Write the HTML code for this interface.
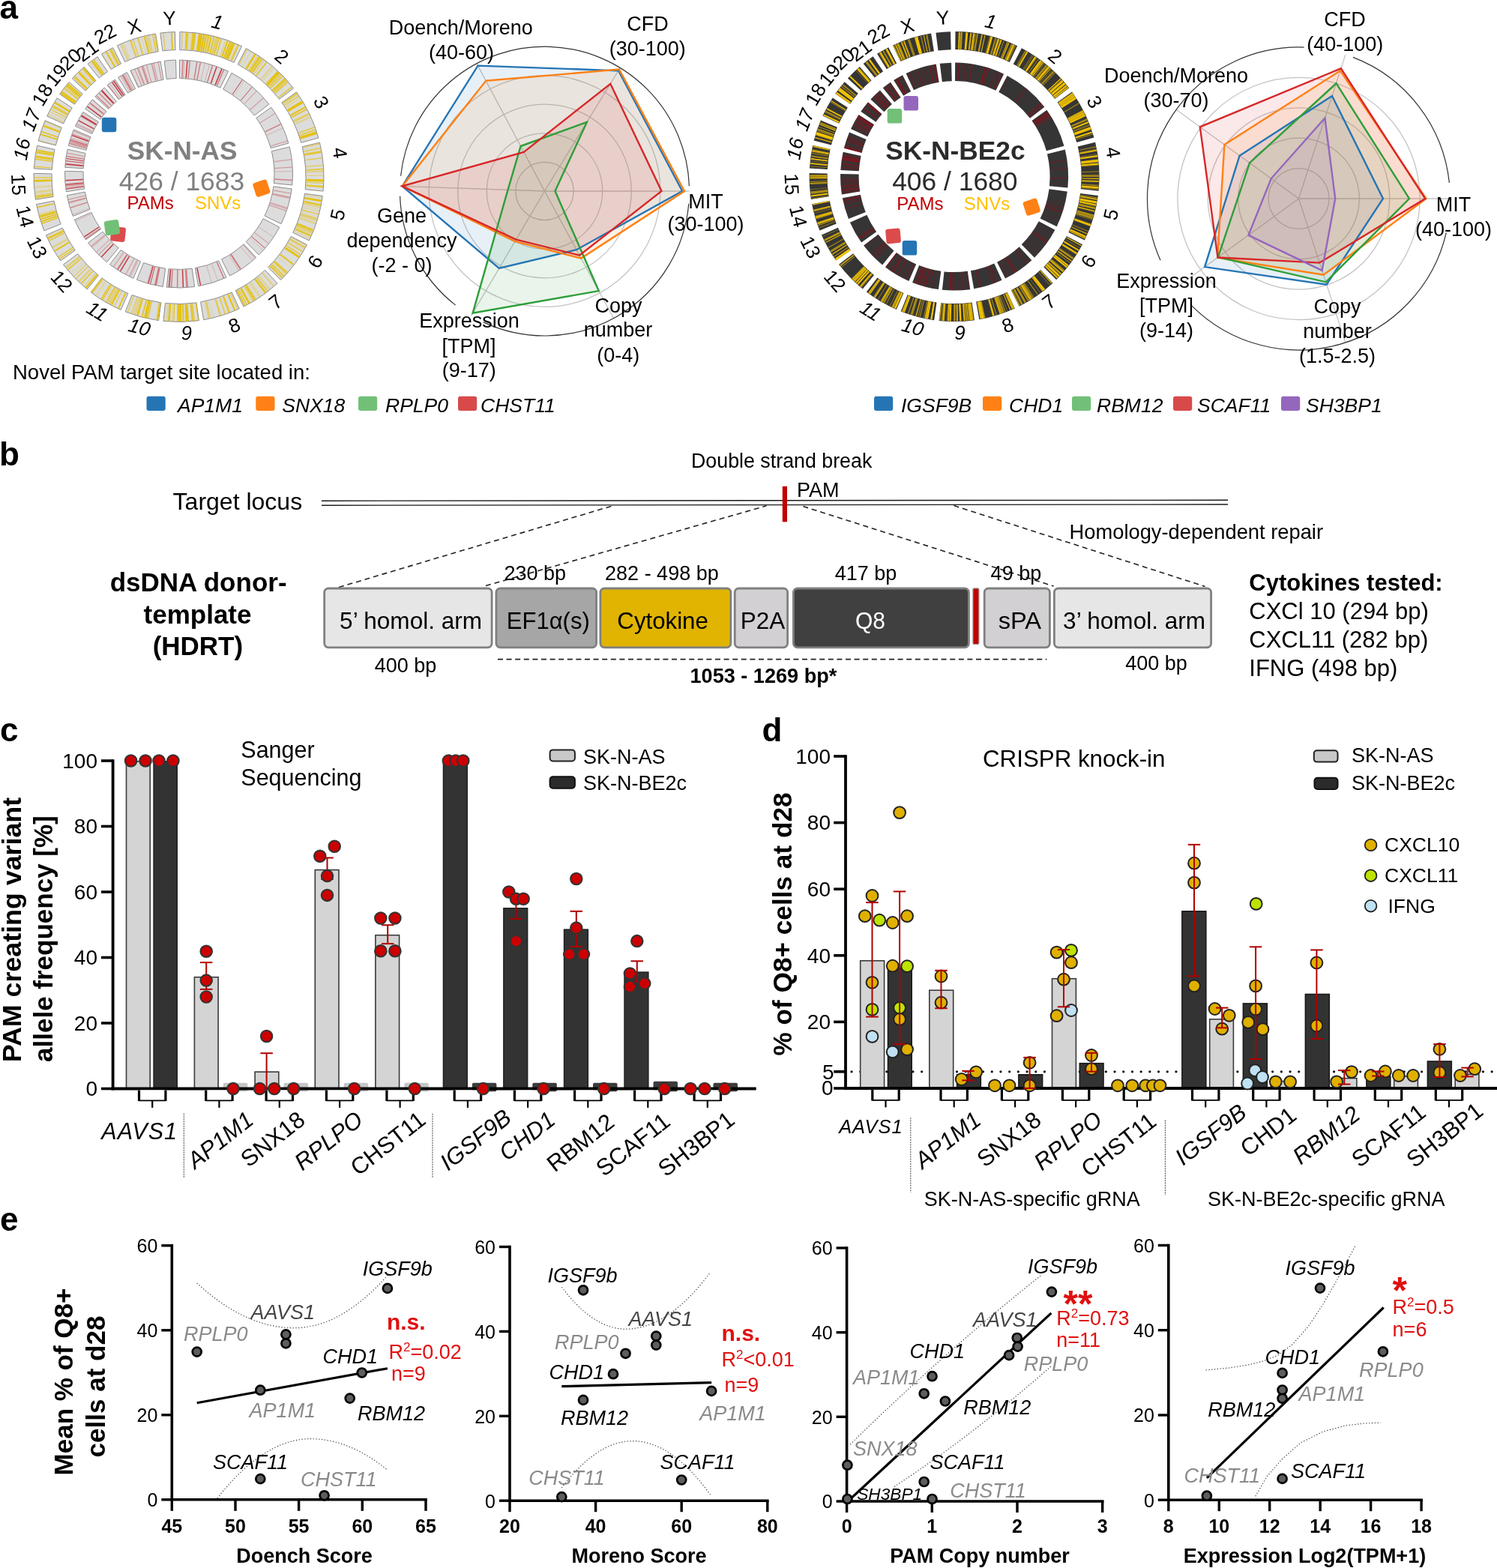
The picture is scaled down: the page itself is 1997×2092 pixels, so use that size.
<!DOCTYPE html>
<html><head><meta charset="utf-8"><title>Figure</title>
<style>html,body{margin:0;padding:0;background:#fff;} svg{display:block;}</style></head>
<body><svg width="1997" height="2092" viewBox="0 0 1997 2092" font-family="'Liberation Sans', Arial, Helvetica, sans-serif">
<rect width="1997" height="2092" fill="#fff"/>
<text x="-0.5" y="24.8" font-size="44" font-weight="bold">a</text>
<path d="M239.85,42.50 A193.5,193.5 0 0 1 322.55,61.71 L312.12,83.33 A169.5,169.5 0 0 0 239.68,66.50 Z" fill="#dcdcdc" stroke="#8c8c8c" stroke-width="1.0"/>
<path d="M328.28,64.59 A193.5,193.5 0 0 1 391.60,117.67 L372.61,132.35 A169.5,169.5 0 0 0 317.15,85.85 Z" fill="#dcdcdc" stroke="#8c8c8c" stroke-width="1.0"/>
<path d="M395.44,122.81 A193.5,193.5 0 0 1 424.86,183.93 L401.75,190.39 A169.5,169.5 0 0 0 375.98,136.85 Z" fill="#dcdcdc" stroke="#8c8c8c" stroke-width="1.0"/>
<path d="M426.49,190.13 A193.5,193.5 0 0 1 431.06,255.06 L407.18,252.70 A169.5,169.5 0 0 0 403.17,195.82 Z" fill="#dcdcdc" stroke="#8c8c8c" stroke-width="1.0"/>
<path d="M430.32,261.44 A193.5,193.5 0 0 1 412.36,320.93 L390.80,310.40 A169.5,169.5 0 0 0 406.53,258.28 Z" fill="#dcdcdc" stroke="#8c8c8c" stroke-width="1.0"/>
<path d="M409.45,326.65 A193.5,193.5 0 0 1 374.55,373.60 L357.68,356.53 A169.5,169.5 0 0 0 388.25,315.41 Z" fill="#dcdcdc" stroke="#8c8c8c" stroke-width="1.0"/>
<path d="M369.91,378.03 A193.5,193.5 0 0 1 325.00,409.09 L314.27,387.62 A169.5,169.5 0 0 0 353.61,360.41 Z" fill="#dcdcdc" stroke="#8c8c8c" stroke-width="1.0"/>
<path d="M319.22,411.86 A193.5,193.5 0 0 1 271.70,426.63 L267.58,402.99 A169.5,169.5 0 0 0 309.21,390.05 Z" fill="#dcdcdc" stroke="#8c8c8c" stroke-width="1.0"/>
<path d="M265.36,427.63 A193.5,193.5 0 0 1 217.90,428.40 L220.46,404.54 A169.5,169.5 0 0 0 262.03,403.86 Z" fill="#dcdcdc" stroke="#8c8c8c" stroke-width="1.0"/>
<path d="M211.53,427.61 A193.5,193.5 0 0 1 167.17,415.87 L176.01,393.56 A169.5,169.5 0 0 0 214.88,403.85 Z" fill="#dcdcdc" stroke="#8c8c8c" stroke-width="1.0"/>
<path d="M161.24,413.41 A193.5,193.5 0 0 1 121.28,389.96 L135.82,370.86 A169.5,169.5 0 0 0 170.82,391.40 Z" fill="#dcdcdc" stroke="#8c8c8c" stroke-width="1.0"/>
<path d="M116.24,385.98 A193.5,193.5 0 0 1 84.47,353.12 L103.57,338.59 A169.5,169.5 0 0 0 131.41,367.38 Z" fill="#dcdcdc" stroke="#8c8c8c" stroke-width="1.0"/>
<path d="M80.67,347.95 A193.5,193.5 0 0 1 61.33,313.79 L83.30,304.14 A169.5,169.5 0 0 0 100.25,334.06 Z" fill="#dcdcdc" stroke="#8c8c8c" stroke-width="1.0"/>
<path d="M58.84,307.87 A193.5,193.5 0 0 1 48.50,272.61 L72.06,268.07 A169.5,169.5 0 0 0 81.13,298.96 Z" fill="#dcdcdc" stroke="#8c8c8c" stroke-width="1.0"/>
<path d="M47.39,266.29 A193.5,193.5 0 0 1 45.06,231.35 L69.05,231.93 A169.5,169.5 0 0 0 71.09,262.54 Z" fill="#dcdcdc" stroke="#8c8c8c" stroke-width="1.0"/>
<path d="M45.32,224.94 A193.5,193.5 0 0 1 49.57,194.21 L73.00,199.39 A169.5,169.5 0 0 0 69.28,226.31 Z" fill="#dcdcdc" stroke="#8c8c8c" stroke-width="1.0"/>
<path d="M51.06,187.97 A193.5,193.5 0 0 1 60.18,160.86 L82.30,170.18 A169.5,169.5 0 0 0 74.31,193.92 Z" fill="#dcdcdc" stroke="#8c8c8c" stroke-width="1.0"/>
<path d="M62.77,154.99 A193.5,193.5 0 0 1 76.09,130.81 L96.23,143.85 A169.5,169.5 0 0 0 84.57,165.04 Z" fill="#dcdcdc" stroke="#8c8c8c" stroke-width="1.0"/>
<path d="M79.67,125.48 A193.5,193.5 0 0 1 92.02,109.57 L110.19,125.25 A169.5,169.5 0 0 0 99.37,139.19 Z" fill="#dcdcdc" stroke="#8c8c8c" stroke-width="1.0"/>
<path d="M96.29,104.78 A193.5,193.5 0 0 1 112.22,89.39 L127.88,107.57 A169.5,169.5 0 0 0 113.93,121.05 Z" fill="#dcdcdc" stroke="#8c8c8c" stroke-width="1.0"/>
<path d="M117.15,85.28 A193.5,193.5 0 0 1 130.06,75.74 L143.51,95.62 A169.5,169.5 0 0 0 132.20,103.98 Z" fill="#dcdcdc" stroke="#8c8c8c" stroke-width="1.0"/>
<path d="M135.43,72.24 A193.5,193.5 0 0 1 150.62,63.61 L161.52,84.99 A169.5,169.5 0 0 0 148.21,92.55 Z" fill="#dcdcdc" stroke="#8c8c8c" stroke-width="1.0"/>
<path d="M156.38,60.79 A193.5,193.5 0 0 1 207.48,45.00 L211.32,68.69 A169.5,169.5 0 0 0 166.57,82.52 Z" fill="#dcdcdc" stroke="#8c8c8c" stroke-width="1.0"/>
<path d="M213.83,44.08 A193.5,193.5 0 0 1 233.43,42.57 L234.06,66.56 A169.5,169.5 0 0 0 216.89,67.88 Z" fill="#dcdcdc" stroke="#8c8c8c" stroke-width="1.0"/>
<path d="M250.2 66.3L251.8 43.6M283.5 72.0L289.6 50.0M242.4 65.9L243.0 43.2M283.4 71.9L289.4 49.9M255.5 66.7L257.7 44.1M323.2 88.5L334.6 68.7M359.4 116.3L375.6 100.3M387.4 153.8L407.4 142.8M393.0 164.9L413.8 155.4M378.1 138.9L396.9 125.8M405.2 202.2L427.5 197.6M406.0 206.4L428.4 202.4M395.6 301.3L416.6 310.1M403.6 276.8L425.8 282.3M392.4 308.5L413.0 318.2M406.9 260.1L429.5 263.3M363.3 351.5L380.1 367.0M334.8 376.2L347.7 395.0M326.6 381.5L338.4 401.0M297.3 395.6L305.1 417.0M273.3 402.5L278.0 424.8M158.3 386.0L147.5 406.1M124.0 361.8L108.7 378.7M68.5 240.8L45.7 241.4M70.1 260.3L47.6 263.6M68.8 247.3L46.0 248.8M68.9 249.0L46.2 250.7M70.1 212.2L47.5 209.0M71.0 206.4L48.5 202.5M107.9 127.0L90.4 112.4M108.4 126.4L91.0 111.7M137.9 98.8L124.4 80.4M156.5 87.0L145.5 67.0M153.1 88.9L141.7 69.2M148.6 91.6L136.6 72.2M198.5 70.7L193.1 48.5M173.4 78.8L164.7 57.8" stroke="#e6c000" stroke-width="0.6" stroke-opacity="0.7" fill="none"/>
<path d="M249.0 66.2L250.4 43.5M276.1 70.1L281.1 47.9M258.2 67.0L260.9 44.4M301.0 77.8L309.4 56.6M275.9 70.1L280.9 47.8M337.1 97.4L350.3 78.8M366.2 123.7L383.4 108.6M398.2 177.5L419.6 169.7M391.9 162.5L412.5 152.7M379.6 140.9L398.5 128.2M408.2 248.0L430.9 249.6M408.4 243.5L431.2 244.5M408.5 229.5L431.3 228.6M408.0 222.3L430.8 220.5M397.0 297.9L418.2 306.2M395.5 301.4L416.6 310.2M405.2 269.8L427.5 274.4M381.9 327.5L401.1 339.7M316.3 387.3L326.7 407.6M293.2 397.1L300.5 418.7M287.1 399.0L293.7 420.8M244.3 406.0L245.1 428.8M202.5 402.2L197.7 424.5M162.6 388.2L152.4 408.6M148.8 380.5L136.8 399.9M106.0 342.7L88.3 357.0M123.8 361.6L108.5 378.5M123.6 361.4L108.2 378.2M117.5 355.6L101.3 371.6M85.9 311.1L65.4 321.1M98.3 332.4L79.5 345.3M70.2 211.2L47.7 207.9M70.1 211.8L47.6 208.6M76.0 185.8L54.2 179.1M76.9 182.8L55.3 175.7M88.1 156.6L67.9 145.9M99.4 138.1L80.8 124.9M106.4 128.8L88.7 114.4M153.1 88.9L141.6 69.2M157.6 86.4L146.7 66.3M201.0 70.1L196.0 47.8M184.8 74.6L177.6 53.0M197.8 70.8L192.4 48.7" stroke="#e6c000" stroke-width="1.2" stroke-opacity="0.7" fill="none"/>
<path d="M287.8 73.2L294.4 51.4M252.8 66.5L254.7 43.8M273.9 69.6L278.7 47.3M339.0 98.7L352.4 80.3M347.6 105.5L362.2 88.0M364.2 121.4L381.1 106.1M319.1 86.2L329.9 66.1M360.3 117.3L376.6 101.4M400.5 184.0L422.2 177.0M379.0 140.1L397.8 127.3M399.8 182.1L421.5 174.9M405.0 201.3L427.3 196.6M407.1 213.8L429.8 210.8M407.1 213.6L429.7 210.6M404.8 271.9L427.1 276.7M401.8 283.5L423.7 289.9M405.5 268.5L427.9 272.8M404.2 274.4L426.4 279.6M385.1 322.3L404.7 333.9M370.7 343.0L388.4 357.4M332.5 377.8L345.1 396.8M278.7 401.3L284.1 423.4M275.2 402.1L280.1 424.4M276.2 401.9L281.2 424.1M222.1 405.3L219.8 428.0M184.4 397.3L177.1 418.9M150.4 381.5L138.6 401.0M142.8 376.7L130.0 395.5M115.5 353.5L99.0 369.2M111.4 349.0L94.3 364.2M105.2 341.6L87.3 355.8M113.2 351.0L96.4 366.4M117.6 355.6L101.4 371.7M90.6 319.9L70.7 331.2M83.1 305.1L62.2 314.4M85.9 311.2L65.5 321.2M85.2 309.8L64.7 319.7M75.9 285.9L54.1 292.6M74.1 279.8L52.1 285.7M69.7 256.8L47.1 259.6M73.9 193.0L51.9 187.2M79.7 174.9L58.5 166.7M89.6 153.8L69.6 142.8M85.6 161.5L65.1 151.5M159.4 85.4L148.8 65.2M197.9 70.8L192.4 48.7M172.3 79.3L163.4 58.3M194.9 71.6L189.1 49.5" stroke="#e6c000" stroke-width="0.6" stroke-opacity="0.45" fill="none"/>
<path d="M284.7 72.3L290.9 50.3M242.5 65.9L243.1 43.2M302.4 78.3L310.9 57.2M277.6 70.5L282.8 48.3M329.2 92.1L341.4 72.8M350.2 107.7L365.2 90.5M333.5 94.9L346.3 76.0M367.2 124.8L384.4 109.9M339.1 98.8L352.6 80.5M383.1 146.5L402.5 134.5M381.2 143.4L400.3 131.0M400.2 183.3L421.9 176.3M393.5 166.0L414.3 156.6M408.6 234.2L431.4 234.0M407.1 213.7L429.7 210.7M405.2 202.4L427.6 197.9M404.8 271.9L427.0 276.8M373.9 339.0L392.0 352.8M381.9 327.4L401.2 339.7M373.1 340.1L391.1 354.0M345.8 368.0L360.2 385.7M344.6 368.9L358.9 386.7M333.5 377.1L346.3 396.0M316.8 387.0L327.3 407.3M292.7 397.2L300.0 418.8M274.3 402.3L279.1 424.6M238.5 406.1L238.4 428.9M238.4 406.1L238.4 428.9M148.8 380.6L136.8 399.9M140.9 375.3L127.9 394.0M148.1 380.1L136.0 399.4M127.1 364.6L112.2 381.8M106.1 342.8L88.4 357.2M75.3 283.9L53.4 290.3M77.4 290.5L55.8 297.8M68.4 236.9L45.6 237.0M69.7 214.6L47.1 211.8M69.9 213.2L47.3 210.1M69.7 215.0L47.1 212.2M81.2 171.2L60.2 162.5M86.8 159.1L66.5 148.7M84.8 163.2L64.2 153.4M101.2 135.6L82.8 122.2M107.8 127.1L90.3 112.5M122.8 111.3L107.3 94.6M182.5 75.4L175.0 53.8" stroke="#e6c000" stroke-width="0.6" stroke-opacity="0.9" fill="none"/>
<path d="M273.0 69.4L277.7 47.1M307.8 80.6L317.0 59.8M265.8 68.1L269.4 45.6M300.3 77.5L308.6 56.3M282.6 71.7L288.5 49.7M280.4 71.1L286.0 49.1M365.4 122.8L382.4 107.6M334.5 95.6L347.4 76.8M327.9 91.3L339.9 71.9M331.8 93.8L344.3 74.7M383.7 147.4L403.2 135.5M391.4 161.4L411.9 151.4M404.1 196.9L426.2 191.7M399.5 290.8L421.1 298.2M394.6 303.7L415.5 312.7M401.2 285.6L423.0 292.3M400.6 287.5L422.4 294.4M360.9 354.1L377.3 369.9M325.9 381.9L337.6 401.5M341.0 371.7L354.8 389.9M350.0 364.4L365.0 381.6M287.8 398.8L294.4 420.6M307.7 391.4L317.0 412.2M297.7 395.5L305.6 416.8M187.5 398.3L180.6 420.0M195.3 400.5L189.5 422.6M183.1 396.8L175.7 418.4M212.4 404.1L209.0 426.6M178.3 395.1L170.3 416.4M157.4 385.5L146.5 405.6M137.1 372.6L123.5 390.9M154.3 383.8L143.1 403.6M128.9 366.1L114.2 383.5M84.7 308.6L64.0 318.3M89.9 318.8L70.0 329.8M74.5 281.3L52.6 287.3M74.8 282.1L52.8 288.3M76.0 286.2L54.2 292.9M70.2 260.9L47.7 264.2M79.6 175.3L58.3 167.2M106.0 129.4L88.2 115.1M104.8 130.8L86.9 116.7M137.5 99.1L123.9 80.8M159.4 85.4L148.8 65.2M170.6 80.0L161.5 59.1M181.6 75.7L174.0 54.2M203.2 69.6L198.5 47.3M220.3 66.9L217.8 44.2" stroke="#e6c000" stroke-width="2.0" stroke-opacity="0.45" fill="none"/>
<path d="M280.0 71.0L285.5 48.9M256.3 66.8L258.7 44.2M277.0 70.3L282.2 48.1M288.7 73.5L295.5 51.7M267.9 68.5L271.8 46.0M274.0 69.6L278.8 47.4M360.6 117.6L377.0 101.7M357.1 114.0L373.0 97.7M383.3 146.8L402.8 134.9M383.7 147.4L403.2 135.5M408.5 240.2L431.3 240.8M402.8 280.1L424.8 286.0M387.0 319.0L406.9 330.1M384.1 324.0L403.6 335.8M362.3 352.7L378.9 368.3M318.5 386.1L329.2 406.2M342.9 370.3L356.9 388.3M315.9 387.5L326.2 407.8M239.0 406.1L239.0 428.9M240.8 406.1L241.1 428.9M227.7 405.8L226.2 428.5M232.7 406.0L231.9 428.8M240.0 406.1L240.2 428.9M261.4 404.6L264.4 427.1M190.1 399.1L183.6 420.9M200.7 401.9L195.7 424.1M195.6 400.6L189.8 422.7M147.0 379.4L134.8 398.6M153.0 383.0L141.5 402.7M97.0 330.3L78.0 343.0M75.8 285.5L53.9 292.1M77.5 290.8L55.9 298.1M68.5 240.4L45.7 241.0M70.0 212.5L47.5 209.3M68.8 224.0L46.1 222.4M76.9 182.8L55.3 175.6M92.3 149.0L72.7 137.3M90.6 152.0L70.8 140.7M103.6 132.3L85.6 118.4M116.3 117.7L99.9 101.8M115.4 118.6L98.9 102.9M138.8 98.2L125.5 79.7M153.5 88.7L142.1 68.9M158.2 86.1L147.4 66.0M207.9 68.7L203.8 46.3" stroke="#e6c000" stroke-width="1.2" stroke-opacity="0.9" fill="none"/>
<path d="M295.5 75.7L303.2 54.3M293.5 75.1L300.9 53.5M363.3 120.4L380.0 104.9M318.9 86.1L329.6 66.0M363.2 120.3L379.9 104.8M356.3 113.3L372.1 96.9M367.0 124.6L384.3 109.7M348.3 106.1L363.0 88.6M398.2 177.5L419.6 169.6M405.8 205.2L428.2 201.1M406.2 207.2L428.6 203.4M401.3 285.2L423.1 291.8M388.2 316.7L408.3 327.5M386.3 320.2L406.1 331.4M329.6 379.7L341.8 398.9M327.4 381.0L339.3 400.5M304.0 393.0L312.7 414.0M275.3 402.1L280.2 424.3M230.8 405.9L229.7 428.7M224.3 405.5L222.4 428.2M185.8 397.7L178.7 419.4M156.1 384.8L145.1 404.8M155.8 384.6L144.7 404.5M121.5 359.5L105.8 376.0M120.6 358.6L104.8 375.0M114.9 352.9L98.4 368.6M84.1 307.4L63.4 317.0M98.6 332.8L79.8 345.7M68.4 239.5L45.6 240.0M68.5 240.3L45.7 240.9M69.4 254.7L46.8 257.2M69.3 253.2L46.6 255.5M69.9 258.2L47.3 261.2M68.4 236.8L45.6 236.9M69.6 215.6L47.0 212.8M106.3 129.0L88.6 114.6M114.4 119.7L97.8 104.1M135.4 100.7L121.6 82.6M152.7 89.1L141.2 69.4M181.1 75.9L173.4 54.4" stroke="#e6c000" stroke-width="1.2" stroke-opacity="0.45" fill="none"/>
<path d="M270.9 69.0L275.2 46.6M247.7 66.1L248.9 43.4M264.8 67.9L268.3 45.4M303.9 79.0L312.7 57.9M263.0 67.7L266.3 45.1M296.2 76.0L303.9 54.5M268.5 68.6L272.6 46.1M298.9 77.0L306.9 55.7M303.1 78.6L311.7 57.5M265.8 68.1L269.5 45.6M355.1 112.1L370.7 95.5M356.2 113.2L371.9 96.7M333.6 95.0L346.3 76.1M328.7 91.8L340.7 72.4M400.7 184.8L422.5 178.0M384.4 148.5L403.9 136.8M387.5 153.9L407.5 142.9M400.3 183.5L422.0 176.5M408.6 239.7L431.4 240.2M406.3 263.8L428.8 267.5M406.2 264.6L428.7 268.5M396.4 299.3L417.5 307.8M393.7 305.6L414.5 314.9M379.8 330.8L398.7 343.5M340.1 372.4L353.8 390.7M321.0 384.7L332.1 404.7M328.1 380.6L340.1 400.0M321.6 384.4L332.8 404.3M304.3 392.9L313.1 413.9M249.5 405.7L251.0 428.5M247.8 405.8L249.0 428.6M237.3 406.1L237.1 428.9M254.6 405.3L256.8 428.0M226.6 405.7L225.0 428.4M198.4 401.3L193.0 423.5M213.4 404.2L210.1 426.8M167.6 390.6L158.1 411.3M159.4 386.6L148.8 406.8M129.5 366.6L114.9 384.1M92.4 323.1L72.8 334.8M76.7 288.4L55.0 295.4M75.0 282.8L53.0 289.0M68.5 241.0L45.7 241.7M71.3 204.6L48.9 200.4M70.9 207.0L48.4 203.2M79.3 176.1L58.0 168.1M92.8 148.3L73.2 136.5M92.6 148.6L73.0 136.9M101.2 135.7L82.7 122.2M99.9 137.3L81.4 124.1M126.6 107.9L111.6 90.7M120.6 113.4L104.8 96.9M136.5 99.9L122.8 81.7M230.0 66.1L228.9 43.3" stroke="#e6c000" stroke-width="2.0" stroke-opacity="0.9" fill="none"/>
<path d="M262.7 67.6L265.9 45.1M301.4 78.0L309.9 56.8M257.4 67.0L260.0 44.3M308.7 81.0L318.1 60.3M255.1 66.7L257.3 44.0M285.8 72.6L292.2 50.7M336.0 96.6L349.1 78.0M371.7 130.2L389.5 116.0M358.6 115.6L374.7 99.4M363.3 120.4L380.0 104.9M341.9 100.9L355.7 82.8M364.4 121.6L381.2 106.2M388.9 156.5L409.0 145.8M377.4 137.8L396.0 124.6M399.3 180.6L420.9 173.1M406.0 206.6L428.5 202.7M408.5 241.3L431.3 242.0M408.4 226.9L431.1 225.6M408.2 247.3L431.0 248.8M405.4 268.8L427.8 273.2M366.2 348.4L383.3 363.4M365.2 349.5L382.2 364.7M373.8 339.2L391.9 353.0M380.4 329.8L399.4 342.3M360.1 355.0L376.4 370.9M298.1 395.3L306.1 416.7M241.3 406.1L241.6 428.9M243.8 406.0L244.5 428.8M256.5 405.1L258.9 427.8M247.4 405.9L248.5 428.6M189.7 398.9L183.1 420.8M190.1 399.1L183.6 420.9M200.5 401.8L195.4 424.0M198.7 401.4L193.4 423.6M136.0 371.8L122.3 390.0M108.0 345.1L90.5 359.7M84.5 308.3L63.9 318.0M72.2 271.7L49.9 276.4M70.0 259.4L47.4 262.5M75.9 185.9L54.2 179.2M89.8 153.5L69.8 142.4M107.6 127.3L90.1 112.8M108.2 126.7L90.7 112.0M106.9 128.2L89.3 113.8M107.2 127.9L89.6 113.4M125.5 108.9L110.3 91.8M121.2 112.8L105.5 96.3M190.5 72.8L184.0 50.9M198.7 70.6L193.3 48.5M210.4 68.2L206.7 45.7" stroke="#e6c000" stroke-width="2.0" stroke-opacity="0.7" fill="none"/>
<path d="M239.56,80.00 A152,152 0 0 1 304.52,95.09 L293.88,117.16 A127.5,127.5 0 0 0 239.39,104.50 Z" fill="#dcdcdc" stroke="#8c8c8c" stroke-width="1.0"/>
<path d="M309.03,97.35 A152,152 0 0 1 358.77,139.05 L339.38,154.03 A127.5,127.5 0 0 0 297.66,119.06 Z" fill="#dcdcdc" stroke="#8c8c8c" stroke-width="1.0"/>
<path d="M361.78,143.09 A152,152 0 0 1 384.89,191.10 L361.30,197.69 A127.5,127.5 0 0 0 341.91,157.42 Z" fill="#dcdcdc" stroke="#8c8c8c" stroke-width="1.0"/>
<path d="M386.17,195.97 A152,152 0 0 1 389.76,246.97 L365.38,244.56 A127.5,127.5 0 0 0 362.37,201.78 Z" fill="#dcdcdc" stroke="#8c8c8c" stroke-width="1.0"/>
<path d="M389.18,251.98 A152,152 0 0 1 375.08,298.72 L353.06,287.96 A127.5,127.5 0 0 0 364.89,248.76 Z" fill="#dcdcdc" stroke="#8c8c8c" stroke-width="1.0"/>
<path d="M372.79,303.21 A152,152 0 0 1 345.37,340.09 L328.15,322.66 A127.5,127.5 0 0 0 351.14,291.73 Z" fill="#dcdcdc" stroke="#8c8c8c" stroke-width="1.0"/>
<path d="M341.73,343.57 A152,152 0 0 1 306.45,367.97 L295.50,346.05 A127.5,127.5 0 0 0 325.09,325.59 Z" fill="#dcdcdc" stroke="#8c8c8c" stroke-width="1.0"/>
<path d="M301.91,370.14 A152,152 0 0 1 264.58,381.75 L260.37,357.61 A127.5,127.5 0 0 0 291.69,347.88 Z" fill="#dcdcdc" stroke="#8c8c8c" stroke-width="1.0"/>
<path d="M259.60,382.53 A152,152 0 0 1 222.32,383.14 L224.93,358.78 A127.5,127.5 0 0 0 256.20,358.27 Z" fill="#dcdcdc" stroke="#8c8c8c" stroke-width="1.0"/>
<path d="M217.32,382.52 A152,152 0 0 1 182.47,373.29 L191.50,350.52 A127.5,127.5 0 0 0 220.73,358.26 Z" fill="#dcdcdc" stroke="#8c8c8c" stroke-width="1.0"/>
<path d="M177.81,371.36 A152,152 0 0 1 146.42,352.94 L161.26,333.44 A127.5,127.5 0 0 0 187.59,348.90 Z" fill="#dcdcdc" stroke="#8c8c8c" stroke-width="1.0"/>
<path d="M142.46,349.82 A152,152 0 0 1 117.50,324.00 L137.01,309.17 A127.5,127.5 0 0 0 157.94,330.83 Z" fill="#dcdcdc" stroke="#8c8c8c" stroke-width="1.0"/>
<path d="M114.52,319.94 A152,152 0 0 1 99.32,293.11 L121.76,283.26 A127.5,127.5 0 0 0 134.50,305.76 Z" fill="#dcdcdc" stroke="#8c8c8c" stroke-width="1.0"/>
<path d="M97.37,288.46 A152,152 0 0 1 89.25,260.76 L113.30,256.12 A127.5,127.5 0 0 0 120.12,279.36 Z" fill="#dcdcdc" stroke="#8c8c8c" stroke-width="1.0"/>
<path d="M88.37,255.80 A152,152 0 0 1 86.54,228.35 L111.04,228.94 A127.5,127.5 0 0 0 112.57,251.96 Z" fill="#dcdcdc" stroke="#8c8c8c" stroke-width="1.0"/>
<path d="M86.75,223.31 A152,152 0 0 1 90.09,199.17 L114.01,204.46 A127.5,127.5 0 0 0 111.21,224.71 Z" fill="#dcdcdc" stroke="#8c8c8c" stroke-width="1.0"/>
<path d="M91.26,194.27 A152,152 0 0 1 98.43,172.98 L121.00,182.49 A127.5,127.5 0 0 0 114.99,200.35 Z" fill="#dcdcdc" stroke="#8c8c8c" stroke-width="1.0"/>
<path d="M100.46,168.37 A152,152 0 0 1 110.92,149.37 L131.49,162.69 A127.5,127.5 0 0 0 122.71,178.62 Z" fill="#dcdcdc" stroke="#8c8c8c" stroke-width="1.0"/>
<path d="M113.73,145.18 A152,152 0 0 1 123.43,132.68 L141.98,148.69 A127.5,127.5 0 0 0 133.84,159.18 Z" fill="#dcdcdc" stroke="#8c8c8c" stroke-width="1.0"/>
<path d="M126.79,128.92 A152,152 0 0 1 139.30,116.83 L155.29,135.40 A127.5,127.5 0 0 0 144.80,145.54 Z" fill="#dcdcdc" stroke="#8c8c8c" stroke-width="1.0"/>
<path d="M143.17,113.61 A152,152 0 0 1 153.32,106.11 L167.05,126.40 A127.5,127.5 0 0 0 158.54,132.69 Z" fill="#dcdcdc" stroke="#8c8c8c" stroke-width="1.0"/>
<path d="M157.54,103.36 A152,152 0 0 1 169.47,96.58 L180.59,118.41 A127.5,127.5 0 0 0 170.59,124.09 Z" fill="#dcdcdc" stroke="#8c8c8c" stroke-width="1.0"/>
<path d="M173.99,94.37 A152,152 0 0 1 214.13,81.97 L218.06,106.15 A127.5,127.5 0 0 0 184.39,116.55 Z" fill="#dcdcdc" stroke="#8c8c8c" stroke-width="1.0"/>
<path d="M219.12,81.24 A152,152 0 0 1 234.52,80.05 L235.16,104.54 A127.5,127.5 0 0 0 222.24,105.54 Z" fill="#dcdcdc" stroke="#8c8c8c" stroke-width="1.0"/>
<path d="M244.7 104.1L245.8 80.8M267.9 107.3L273.2 84.6M273.2 108.7L279.5 86.3M321.5 329.6L336.6 347.3M275.6 354.6L282.4 376.9M184.1 348.0L174.2 369.1M118.9 278.0L97.2 286.4M111.6 249.3L88.5 252.4M117.0 191.3L94.9 183.9M128.9 165.7L108.9 153.7M128.9 165.6L109.0 153.6M150.9 138.5L135.0 121.5M160.6 130.3L146.5 111.8M178.2 119.0L167.2 98.4M173.0 121.9L161.1 101.9M208.4 107.5L202.9 84.8" stroke="#c0101c" stroke-width="0.9" stroke-opacity="0.25" fill="none"/>
<path d="M276.6 109.7L283.5 87.4M321.1 134.1L336.2 116.3M310.2 125.9L323.3 106.6M335.5 315.6L353.2 330.8M204.4 355.5L198.2 377.9M206.5 356.0L200.7 378.6M133.3 305.1L114.2 318.4M110.9 243.7L87.7 245.9M111.6 214.7L88.5 211.5M116.2 193.9L93.9 187.0M138.6 151.9L120.4 137.3" stroke="#c0101c" stroke-width="0.9" stroke-opacity="0.8" fill="none"/>
<path d="M248.1 104.3L249.9 81.0M287.1 113.5L295.9 91.9M281.3 111.2L289.0 89.3M263.0 357.7L267.5 380.6M227.6 359.6L225.7 382.9M243.5 360.0L244.4 383.3M172.5 341.8L160.5 361.8M151.2 325.8L135.4 342.8M131.9 303.0L112.5 315.9M110.6 239.4L87.4 240.7M110.9 220.9L87.7 218.8M118.0 188.5L96.1 180.6M128.6 166.2L108.6 154.2M125.4 171.8L104.9 160.8M135.3 156.1L116.6 142.2M151.7 137.8L135.9 120.6M151.4 138.1L135.5 121.0M163.1 128.4L149.4 109.6M165.0 127.1L151.6 108.0" stroke="#c0101c" stroke-width="1.5" stroke-opacity="0.8" fill="none"/>
<path d="M251.0 104.5L253.3 81.3M262.9 106.3L267.4 83.4M289.3 114.4L298.6 93.0M259.1 105.6L262.8 82.6M243.0 104.0L243.8 80.7M366.4 239.1L389.7 240.4M308.4 339.4L321.1 358.9M248.5 359.7L250.3 382.9M247.5 359.8L249.1 383.0M230.1 359.8L228.6 383.1M236.9 360.1L236.6 383.4M203.9 355.3L197.6 377.8M212.3 357.4L207.6 380.2M169.7 340.1L157.2 359.7M116.2 270.1L94.0 277.1M111.5 248.5L88.4 251.5M111.0 244.7L87.8 247.0M115.7 195.5L93.4 188.9M174.8 120.9L163.2 100.7M175.7 120.3L164.3 100.0M196.9 110.9L189.3 88.8" stroke="#c0101c" stroke-width="1.5" stroke-opacity="0.45" fill="none"/>
<path d="M286.7 113.3L295.4 91.7M312.2 127.2L325.6 108.2M309.8 125.6L322.8 106.2M333.5 317.9L350.8 333.5M211.4 357.2L206.5 380.0M202.9 355.0L196.4 377.4M163.9 336.2L150.4 355.1M111.9 212.3L88.9 208.7M118.4 187.4L96.6 179.3M166.2 126.3L153.0 107.0" stroke="#c0101c" stroke-width="0.5" stroke-opacity="0.25" fill="none"/>
<path d="M326.1 138.5L342.0 121.5M347.0 163.9L366.7 151.5M366.4 224.5L389.6 223.1M364.7 254.0L387.6 258.0M363.6 259.5L386.4 264.5M363.9 258.3L386.7 263.1M211.4 357.2L206.5 380.0M169.0 339.6L156.3 359.2M145.6 320.2L128.8 336.3M113.7 261.0L91.0 266.3M111.5 249.0L88.4 252.1M112.5 208.7L89.6 204.4M111.2 217.5L88.1 214.9M116.5 192.9L94.3 185.7M115.0 197.9L92.6 191.7M128.3 166.6L108.3 154.8M128.0 167.3L107.9 155.5M148.8 140.6L132.4 124.0M191.7 112.7L183.2 91.1M201.9 109.2L195.3 86.9M198.4 110.4L191.0 88.2M207.7 107.6L202.1 85.0M215.3 106.0L211.1 83.1" stroke="#c0101c" stroke-width="0.5" stroke-opacity="0.8" fill="none"/>
<path d="M333.8 146.4L351.2 130.9M365.6 215.7L388.7 212.7M360.7 270.5L382.9 277.5M360.4 271.4L382.5 278.6M289.3 349.6L298.5 371.0M178.7 345.3L167.8 365.9M182.7 347.3L172.6 368.3M148.4 323.0L132.0 339.6M140.5 314.5L122.7 329.5M114.7 264.8L92.1 270.7M111.2 246.2L88.0 248.8M111.2 246.0L88.0 248.6M110.8 221.8L87.6 220.0M123.5 175.5L102.6 165.3M138.0 152.6L119.7 138.2M145.8 143.6L128.9 127.5M148.4 141.0L132.0 124.4M210.1 107.1L204.9 84.4" stroke="#c0101c" stroke-width="1.5" stroke-opacity="0.25" fill="none"/>
<path d="M361.1 194.8L383.4 188.0M353.5 175.6L374.5 165.4M353.8 176.1L374.7 165.9M359.6 273.7L381.6 281.3M339.7 310.5L358.2 324.7M307.7 339.8L320.2 359.4M324.6 326.9L340.2 344.1M289.2 349.6L298.5 371.0M213.2 357.6L208.6 380.4M165.1 337.0L151.7 356.1M139.6 313.4L121.6 328.2M114.5 264.0L91.9 269.8M111.9 212.2L88.9 208.6M111.3 217.2L88.1 214.5M118.6 187.0L96.8 178.8M119.8 183.7L98.3 174.9M115.2 197.2L92.8 190.8M145.4 144.0L128.5 128.0M158.7 131.8L144.1 113.6M192.8 112.3L184.5 90.6M188.9 113.9L179.9 92.4" stroke="#c0101c" stroke-width="0.9" stroke-opacity="0.45" fill="none"/>
<path d="M355.8 180.4L377.1 171.0M366.6 229.1L389.9 228.6M345.1 303.1L364.5 316.0M306.0 340.9L318.3 360.7M282.6 352.3L290.6 374.1M226.6 359.5L224.4 382.7M169.2 339.7L156.6 359.3M122.0 285.2L100.8 294.9M111.6 214.8L88.5 211.7M112.0 211.9L89.0 208.2M122.9 176.8L101.9 166.8M130.2 163.5L110.6 151.1M140.9 149.0L123.2 133.9M177.1 119.6L165.9 99.1M185.0 115.6L175.2 94.5" stroke="#c0101c" stroke-width="0.5" stroke-opacity="0.45" fill="none"/>
<text x="290.0" y="28.8" font-size="26" font-style="italic" text-anchor="middle" dy="0.36em" transform="rotate(14.0 290.0 28.8)">1</text>
<text x="376.2" y="75.0" font-size="26" font-style="normal" text-anchor="middle" dy="0.36em" transform="rotate(40.5 376.2 75.0)">2</text>
<text x="428.8" y="136.2" font-size="26" font-style="normal" text-anchor="middle" dy="0.36em" transform="rotate(62.3 428.8 136.2)">3</text>
<text x="453.8" y="203.8" font-size="26" font-style="normal" text-anchor="middle" dy="0.36em" transform="rotate(81.5 453.8 203.8)">4</text>
<text x="450.0" y="286.2" font-size="26" font-style="normal" text-anchor="middle" dy="0.36em" transform="rotate(-76.6 450.0 286.2)">5</text>
<text x="420.0" y="348.8" font-size="26" font-style="normal" text-anchor="middle" dy="0.36em" transform="rotate(-58.2 420.0 348.8)">6</text>
<text x="367.5" y="402.5" font-size="26" font-style="normal" text-anchor="middle" dy="0.36em" transform="rotate(-37.8 367.5 402.5)">7</text>
<text x="312.5" y="433.8" font-size="26" font-style="normal" text-anchor="middle" dy="0.36em" transform="rotate(-20.5 312.5 433.8)">8</text>
<text x="248.8" y="443.8" font-size="26" font-style="italic" text-anchor="middle" dy="0.36em" transform="rotate(-2.8 248.8 443.8)">9</text>
<text x="186.2" y="436.2" font-size="26" font-style="italic" text-anchor="middle" dy="0.36em" transform="rotate(14.6 186.2 436.2)">10</text>
<text x="130.0" y="415.0" font-size="26" font-style="italic" text-anchor="middle" dy="0.36em" transform="rotate(31.2 130.0 415.0)">11</text>
<text x="82.5" y="375.0" font-size="26" font-style="normal" text-anchor="middle" dy="0.36em" transform="rotate(48.3 82.5 375.0)">12</text>
<text x="50.0" y="330.0" font-size="26" font-style="normal" text-anchor="middle" dy="0.36em" transform="rotate(63.5 50.0 330.0)">13</text>
<text x="33.8" y="288.8" font-size="26" font-style="normal" text-anchor="middle" dy="0.36em" transform="rotate(75.6 33.8 288.8)">14</text>
<text x="25.0" y="246.2" font-size="26" font-style="normal" text-anchor="middle" dy="0.36em" transform="rotate(87.3 25.0 246.2)">15</text>
<text x="28.8" y="198.8" font-size="26" font-style="italic" text-anchor="middle" dy="0.36em" transform="rotate(280.1 28.8 198.8)">16</text>
<text x="41.2" y="160.0" font-size="26" font-style="italic" text-anchor="middle" dy="0.36em" transform="rotate(291.1 41.2 160.0)">17</text>
<text x="56.2" y="126.2" font-size="26" font-style="normal" text-anchor="middle" dy="0.36em" transform="rotate(301.1 56.2 126.2)">18</text>
<text x="75.0" y="100.0" font-size="26" font-style="normal" text-anchor="middle" dy="0.36em" transform="rotate(309.8 75.0 100.0)">19</text>
<text x="93.8" y="78.8" font-size="26" font-style="normal" text-anchor="middle" dy="0.36em" transform="rotate(317.4 93.8 78.8)">20</text>
<text x="116.2" y="67.5" font-size="26" font-style="normal" text-anchor="middle" dy="0.36em" transform="rotate(324.0 116.2 67.5)">21</text>
<text x="140.0" y="45.0" font-size="26" font-style="normal" text-anchor="middle" dy="0.36em" transform="rotate(332.7 140.0 45.0)">22</text>
<text x="178.8" y="35.0" font-size="26" font-style="normal" text-anchor="middle" dy="0.36em" transform="rotate(343.4 178.8 35.0)">X</text>
<text x="226.2" y="23.8" font-size="26" font-style="normal" text-anchor="middle" dy="0.36em" transform="rotate(356.7 226.2 23.8)">Y</text>
<text x="243.1" y="212.5" font-size="35.2" font-weight="bold" fill="#808080" text-anchor="middle">SK-N-AS</text>
<text x="242.5" y="253.8" font-size="35.4" fill="#808080" text-anchor="middle">426 / 1683</text>
<text x="200.6" y="278.8" font-size="24" fill="#c00000" text-anchor="middle">PAMs</text>
<text x="290.6" y="278.8" font-size="24" fill="#ffc000" text-anchor="middle">SNVs</text>
<rect x="135.8" y="156.8" width="19.5" height="19.5" rx="3.2" fill="#2575b5" transform="rotate(0 145.6 166.6)"/>
<rect x="339.1" y="241.4" width="19.5" height="19.5" rx="3.2" fill="#ff8115" transform="rotate(-18 348.8 251.2)"/>
<rect x="147.8" y="302.8" width="19.5" height="19.5" rx="3.2" fill="#dc4b4b" transform="rotate(6 157.5 312.5)"/>
<rect x="139.7" y="293.9" width="19.5" height="19.5" rx="3.2" fill="#72c077" transform="rotate(-8 149.4 303.7)"/>
<path d="M1274.45,42.10 A193.5,193.5 0 0 1 1357.15,61.31 L1346.72,82.93 A169.5,169.5 0 0 0 1274.28,66.10 Z" fill="#353535"/>
<path d="M1362.88,64.19 A193.5,193.5 0 0 1 1426.20,117.27 L1407.21,131.95 A169.5,169.5 0 0 0 1351.75,85.45 Z" fill="#353535"/>
<path d="M1430.04,122.41 A193.5,193.5 0 0 1 1459.46,183.53 L1436.35,189.99 A169.5,169.5 0 0 0 1410.58,136.45 Z" fill="#353535"/>
<path d="M1461.09,189.73 A193.5,193.5 0 0 1 1465.66,254.66 L1441.78,252.30 A169.5,169.5 0 0 0 1437.77,195.42 Z" fill="#353535"/>
<path d="M1464.92,261.04 A193.5,193.5 0 0 1 1446.96,320.53 L1425.40,310.00 A169.5,169.5 0 0 0 1441.13,257.88 Z" fill="#353535"/>
<path d="M1444.05,326.25 A193.5,193.5 0 0 1 1409.15,373.20 L1392.28,356.13 A169.5,169.5 0 0 0 1422.85,315.01 Z" fill="#353535"/>
<path d="M1404.51,377.63 A193.5,193.5 0 0 1 1359.60,408.69 L1348.87,387.22 A169.5,169.5 0 0 0 1388.21,360.01 Z" fill="#353535"/>
<path d="M1353.82,411.46 A193.5,193.5 0 0 1 1306.30,426.23 L1302.18,402.59 A169.5,169.5 0 0 0 1343.81,389.65 Z" fill="#353535"/>
<path d="M1299.96,427.23 A193.5,193.5 0 0 1 1252.50,428.00 L1255.06,404.14 A169.5,169.5 0 0 0 1296.63,403.46 Z" fill="#353535"/>
<path d="M1246.13,427.21 A193.5,193.5 0 0 1 1201.77,415.47 L1210.61,393.16 A169.5,169.5 0 0 0 1249.48,403.45 Z" fill="#353535"/>
<path d="M1195.84,413.01 A193.5,193.5 0 0 1 1155.88,389.56 L1170.42,370.46 A169.5,169.5 0 0 0 1205.42,391.00 Z" fill="#353535"/>
<path d="M1150.84,385.58 A193.5,193.5 0 0 1 1119.07,352.72 L1138.17,338.19 A169.5,169.5 0 0 0 1166.01,366.98 Z" fill="#353535"/>
<path d="M1115.27,347.55 A193.5,193.5 0 0 1 1095.93,313.39 L1117.90,303.74 A169.5,169.5 0 0 0 1134.85,333.66 Z" fill="#353535"/>
<path d="M1093.44,307.47 A193.5,193.5 0 0 1 1083.10,272.21 L1106.66,267.67 A169.5,169.5 0 0 0 1115.73,298.56 Z" fill="#353535"/>
<path d="M1081.99,265.89 A193.5,193.5 0 0 1 1079.66,230.95 L1103.65,231.53 A169.5,169.5 0 0 0 1105.69,262.14 Z" fill="#353535"/>
<path d="M1079.92,224.54 A193.5,193.5 0 0 1 1084.17,193.81 L1107.60,198.99 A169.5,169.5 0 0 0 1103.88,225.91 Z" fill="#353535"/>
<path d="M1085.66,187.57 A193.5,193.5 0 0 1 1094.78,160.46 L1116.90,169.78 A169.5,169.5 0 0 0 1108.91,193.52 Z" fill="#353535"/>
<path d="M1097.37,154.59 A193.5,193.5 0 0 1 1110.69,130.41 L1130.83,143.45 A169.5,169.5 0 0 0 1119.17,164.64 Z" fill="#353535"/>
<path d="M1114.27,125.08 A193.5,193.5 0 0 1 1126.62,109.17 L1144.79,124.85 A169.5,169.5 0 0 0 1133.97,138.79 Z" fill="#353535"/>
<path d="M1130.89,104.38 A193.5,193.5 0 0 1 1146.82,88.99 L1162.48,107.17 A169.5,169.5 0 0 0 1148.53,120.65 Z" fill="#353535"/>
<path d="M1151.75,84.88 A193.5,193.5 0 0 1 1164.66,75.34 L1178.11,95.22 A169.5,169.5 0 0 0 1166.80,103.58 Z" fill="#353535"/>
<path d="M1170.03,71.84 A193.5,193.5 0 0 1 1185.22,63.21 L1196.12,84.59 A169.5,169.5 0 0 0 1182.81,92.15 Z" fill="#353535"/>
<path d="M1190.98,60.39 A193.5,193.5 0 0 1 1242.08,44.60 L1245.92,68.29 A169.5,169.5 0 0 0 1201.17,82.12 Z" fill="#353535"/>
<path d="M1248.43,43.68 A193.5,193.5 0 0 1 1268.03,42.17 L1268.66,66.16 A169.5,169.5 0 0 0 1251.49,67.48 Z" fill="#353535"/>
<path d="M1298.8 67.4L1302.2 44.9M1278.3 65.6L1279.0 42.8M1279.3 65.6L1280.1 42.8M1287.3 66.1L1289.2 43.4M1295.4 67.0L1298.4 44.4M1390.9 112.9L1406.7 96.4M1399.5 121.8L1416.5 106.5M1369.9 95.7L1382.9 77.0M1391.8 113.8L1407.7 97.4M1379.1 102.5L1393.3 84.7M1380.9 104.1L1395.4 86.4M1366.2 93.3L1378.7 74.2M1364.8 92.3L1377.1 73.1M1412.4 137.9L1431.0 124.8M1415.4 142.4L1434.5 129.9M1413.3 139.3L1432.1 126.4M1442.9 245.7L1465.7 247.1M1440.1 203.4L1462.5 199.1M1442.9 246.5L1465.6 247.9M1437.1 280.9L1459.0 287.0M1429.4 302.7L1450.4 311.7M1435.5 286.3L1457.2 293.1M1439.1 272.8L1461.3 277.8M1439.7 269.9L1462.0 274.5M1410.8 335.4L1429.3 348.8M1413.8 331.2L1432.7 344.0M1412.6 333.0L1431.3 346.0M1405.4 342.6L1423.1 356.9M1356.1 384.1L1367.2 404.0M1385.5 363.3L1400.5 380.4M1387.8 361.3L1403.1 378.1M1377.0 370.3L1390.9 388.3M1333.5 394.6L1341.6 415.9M1279.7 405.6L1280.6 428.4M1292.4 404.6L1295.0 427.2M1285.2 405.3L1286.8 428.0M1190.6 384.3L1179.5 404.3M1197.3 387.9L1187.1 408.3M1183.3 380.0L1171.2 399.4M1172.2 372.5L1158.6 390.9M1162.8 365.1L1148.0 382.5M1138.9 340.1L1120.9 354.1M1163.9 366.1L1149.3 383.5M1163.3 365.5L1148.6 382.9M1120.0 309.8L1099.5 319.7M1114.0 295.8L1092.7 303.9M1113.0 293.2L1091.6 300.9M1112.9 292.7L1091.4 300.4M1105.0 261.5L1082.5 265.0M1103.0 234.6L1080.2 234.5M1103.4 223.6L1080.7 222.0M1104.3 214.4L1081.7 211.6M1103.7 220.0L1081.0 217.9M1111.9 181.2L1090.3 173.9M1115.4 171.7L1094.3 163.2M1111.8 181.5L1090.2 174.3M1109.3 189.9L1087.3 183.7M1123.0 155.5L1102.9 144.8M1233.7 70.1L1228.4 47.9M1226.8 71.9L1220.6 50.0" stroke="#f2c200" stroke-width="0.6" stroke-opacity="0.85" fill="none"/>
<path d="M1322.4 72.8L1329.0 51.0M1317.5 71.4L1323.5 49.4M1315.0 70.7L1320.6 48.6M1297.0 67.2L1300.2 44.6M1331.4 75.8L1339.2 54.4M1345.1 81.5L1354.8 60.8M1343.9 80.9L1353.4 60.2M1372.1 97.2L1385.3 78.7M1357.0 87.6L1368.2 67.8M1383.3 106.0L1398.0 88.6M1406.4 129.9L1424.2 115.7M1398.2 120.3L1414.9 104.9M1433.2 178.0L1454.6 170.3M1433.3 178.4L1454.8 170.8M1435.7 185.7L1457.5 179.0M1425.9 160.9L1446.4 150.9M1412.8 138.6L1431.6 125.6M1443.1 229.6L1465.9 228.8M1442.5 220.4L1465.2 218.4M1442.6 249.9L1465.3 251.9M1442.0 215.6L1464.7 212.9M1430.5 300.0L1451.6 308.6M1441.4 260.5L1463.9 263.9M1435.9 285.0L1457.7 291.7M1398.2 350.8L1415.0 366.2M1405.2 342.8L1422.9 357.2M1398.9 350.1L1415.7 365.5M1388.1 361.0L1403.5 377.8M1363.6 379.6L1375.7 398.9M1356.1 384.1L1367.2 404.0M1359.7 382.0L1371.3 401.6M1366.7 377.6L1379.2 396.7M1332.5 395.0L1340.5 416.4M1338.8 392.5L1347.6 413.5M1318.9 399.4L1325.0 421.4M1240.1 402.5L1235.7 424.8M1212.0 394.3L1203.8 415.6M1219.0 396.9L1211.7 418.5M1237.1 401.8L1232.2 424.1M1230.5 400.3L1224.8 422.4M1202.7 390.4L1193.2 411.2M1199.5 389.0L1189.7 409.5M1192.9 385.6L1182.2 405.7M1153.0 356.1L1136.9 372.2M1140.5 342.2L1122.8 356.5M1159.4 362.1L1144.1 379.1M1120.1 309.9L1099.6 319.9M1129.4 326.7L1110.2 338.9M1112.2 290.9L1090.7 298.3M1103.1 241.6L1080.3 242.5M1105.2 208.1L1082.7 204.4M1109.3 189.8L1087.3 183.7M1113.4 177.1L1092.0 169.2M1127.4 147.8L1107.9 136.1M1140.1 129.5L1122.3 115.3M1161.0 107.6L1146.0 90.5M1192.4 85.9L1181.6 65.8M1220.4 73.9L1213.3 52.2M1207.0 78.9L1198.1 57.9M1207.1 78.8L1198.3 57.8" stroke="#f2c200" stroke-width="0.6" stroke-opacity="1.0" fill="none"/>
<path d="M1281.8 65.7L1283.0 43.0M1279.3 65.6L1280.1 42.8M1305.7 68.7L1310.1 46.3M1386.0 108.4L1401.2 91.3M1405.0 128.2L1422.7 113.8M1368.9 95.0L1381.7 76.2M1389.7 111.8L1405.4 95.2M1382.0 104.9L1396.6 87.4M1429.4 168.5L1450.3 159.5M1425.4 159.9L1445.8 149.7M1414.8 141.6L1433.8 128.9M1433.7 179.6L1455.2 172.1M1443.1 240.9L1465.9 241.7M1440.4 204.8L1462.8 200.7M1442.6 221.3L1465.3 219.4M1439.0 273.3L1461.2 278.3M1427.6 306.7L1448.3 316.3M1436.8 281.9L1458.7 288.2M1402.2 346.3L1419.6 361.1M1394.7 354.6L1411.0 370.5M1398.8 350.2L1415.7 365.5M1352.5 386.0L1363.1 406.2M1365.3 378.6L1377.6 397.7M1377.3 370.1L1391.2 388.1M1378.6 369.0L1392.7 386.9M1350.0 387.3L1360.3 407.7M1327.4 396.8L1334.7 418.4M1328.0 396.6L1335.4 418.2M1259.1 405.1L1257.3 427.8M1291.3 404.7L1293.7 427.4M1285.7 405.2L1287.4 428.0M1212.4 394.5L1204.3 415.8M1179.0 377.3L1166.3 396.3M1189.9 383.9L1178.7 403.8M1139.1 340.3L1121.1 354.4M1127.4 323.4L1107.9 335.2M1110.2 284.7L1088.4 291.2M1107.9 276.0L1085.7 281.5M1109.7 282.7L1087.7 289.0M1103.2 243.9L1080.4 245.1M1104.0 254.0L1081.3 256.5M1103.2 244.0L1080.4 245.1M1104.7 211.4L1082.2 208.2M1110.3 186.3L1088.5 179.6M1123.0 155.6L1102.9 144.9M1121.4 158.7L1101.0 148.4M1137.9 132.4L1119.8 118.5M1189.3 87.5L1178.1 67.7M1240.5 68.6L1236.2 46.3" stroke="#f2c200" stroke-width="2.0" stroke-opacity="0.6" fill="none"/>
<path d="M1340.4 79.4L1349.4 58.4M1317.7 71.5L1323.7 49.5M1325.6 73.8L1332.7 52.1M1402.0 124.7L1419.3 109.8M1357.8 88.1L1369.1 68.3M1356.5 87.3L1367.7 67.5M1387.8 110.0L1403.2 93.2M1381.5 104.5L1396.0 86.9M1431.6 173.9L1452.9 165.7M1427.6 164.4L1448.3 154.8M1424.6 158.3L1445.0 148.0M1429.0 167.6L1449.9 158.5M1425.1 159.3L1445.5 149.1M1441.1 209.1L1463.7 205.6M1443.2 233.2L1466.0 232.9M1441.6 212.2L1464.2 209.1M1442.5 250.9L1465.2 253.0M1439.4 271.2L1461.7 275.9M1439.2 272.4L1461.4 277.3M1426.6 308.8L1447.2 318.7M1437.0 281.2L1458.9 287.3M1409.5 337.2L1427.8 350.8M1409.5 337.3L1427.7 350.9M1416.4 327.3L1435.6 339.6M1421.0 319.6L1440.9 330.8M1374.2 372.4L1387.7 390.8M1327.9 396.6L1335.2 418.2M1318.1 399.7L1324.1 421.6M1335.5 393.8L1343.9 415.0M1290.5 404.8L1292.8 427.5M1264.1 405.5L1262.9 428.2M1257.4 405.0L1255.3 427.7M1212.0 394.3L1203.8 415.6M1227.6 399.5L1221.5 421.5M1222.1 397.9L1215.3 419.6M1218.7 396.8L1211.4 418.4M1223.9 398.4L1217.3 420.3M1178.1 376.7L1165.3 395.6M1200.6 389.5L1190.8 410.1M1152.4 355.4L1136.2 371.5M1118.3 306.2L1097.6 315.6M1110.4 285.3L1088.6 292.0M1108.6 278.9L1086.6 284.7M1104.1 254.8L1081.4 257.4M1103.2 243.4L1080.4 244.4M1103.7 250.8L1081.0 252.8M1104.0 217.2L1081.3 214.7M1120.7 160.0L1100.3 149.9M1122.8 155.9L1102.7 145.2M1138.8 131.2L1120.8 117.2M1140.3 129.3L1122.5 115.1M1157.5 110.9L1142.0 94.1M1158.7 109.7L1143.4 92.8M1233.8 70.1L1228.6 47.9M1229.7 71.1L1223.8 49.1M1207.7 78.6L1199.0 57.5" stroke="#f2c200" stroke-width="0.6" stroke-opacity="0.6" fill="none"/>
<path d="M1281.2 65.7L1282.3 42.9M1321.5 72.5L1328.0 50.7M1305.6 68.6L1310.0 46.3M1342.0 80.1L1351.2 59.2M1317.3 71.3L1323.2 49.3M1279.2 65.6L1280.1 42.8M1340.8 79.6L1349.9 58.7M1403.2 126.0L1420.6 111.3M1406.8 130.4L1424.7 116.3M1432.2 175.3L1453.5 167.2M1419.7 149.4L1439.4 137.8M1412.0 137.5L1430.7 124.3M1442.1 216.1L1464.7 213.5M1442.3 218.3L1465.0 215.9M1439.5 200.5L1461.8 195.8M1436.0 284.5L1457.9 291.0M1429.3 303.0L1450.2 312.1M1436.3 283.4L1458.2 289.9M1417.0 326.4L1436.2 338.5M1416.9 326.5L1436.2 338.6M1360.5 381.5L1372.2 401.1M1353.4 385.6L1364.2 405.7M1371.2 374.6L1384.4 393.2M1387.6 361.4L1402.9 378.3M1322.6 398.3L1329.2 420.1M1338.8 392.5L1347.6 413.5M1309.0 401.9L1313.8 424.2M1260.9 405.3L1259.2 428.0M1272.9 405.7L1272.8 428.5M1212.1 394.4L1203.9 415.7M1222.0 397.8L1215.2 419.6M1241.4 402.7L1237.1 425.1M1232.6 400.8L1227.2 423.0M1223.3 398.2L1216.6 420.0M1131.5 329.9L1112.5 342.5M1124.9 319.1L1105.0 330.3M1128.0 324.4L1108.6 336.3M1112.2 290.8L1090.6 298.2M1104.2 255.7L1081.5 258.3M1115.2 172.3L1094.1 163.8M1115.1 172.7L1093.9 164.3M1109.4 189.5L1087.4 183.3M1119.2 163.1L1098.6 153.3M1138.2 132.0L1120.1 118.1M1141.6 127.7L1124.0 113.2M1141.9 127.3L1124.3 112.8M1160.3 108.3L1145.2 91.2M1169.5 100.7L1155.6 82.6M1169.3 100.8L1155.4 82.8M1168.9 101.1L1154.9 83.1M1170.2 100.1L1156.4 82.0M1192.7 85.7L1181.9 65.6M1184.8 90.2L1172.9 70.8M1219.3 74.2L1212.1 52.6M1228.4 71.5L1222.4 49.5M1218.6 74.5L1211.3 52.9" stroke="#f2c200" stroke-width="1.2" stroke-opacity="0.6" fill="none"/>
<path d="M1292.7 66.6L1295.3 44.0M1325.5 73.8L1332.5 52.1M1317.2 71.3L1323.1 49.3M1359.1 88.8L1370.6 69.1M1375.4 99.7L1389.1 81.5M1405.3 128.6L1423.1 114.3M1403.4 126.3L1420.9 111.7M1400.2 122.6L1417.2 107.4M1384.2 106.8L1399.1 89.5M1425.8 160.7L1446.3 150.7M1424.6 158.3L1445.0 148.0M1414.3 140.8L1433.2 128.1M1412.3 137.9L1431.0 124.8M1426.4 161.9L1446.9 152.0M1413.5 139.5L1432.3 126.6M1433.5 178.9L1455.0 171.3M1438.2 276.4L1460.4 281.9M1427.7 306.4L1448.5 315.9M1433.3 292.8L1454.8 300.5M1433.3 292.7L1454.8 300.4M1441.1 262.3L1463.6 265.9M1394.5 354.8L1410.7 370.7M1396.9 352.3L1413.5 367.9M1401.2 347.5L1418.4 362.5M1396.9 352.2L1413.5 367.9M1362.3 380.4L1374.2 399.9M1377.8 369.7L1391.8 387.7M1305.0 402.7L1309.2 425.1M1343.1 390.6L1352.4 411.4M1341.5 391.3L1350.7 412.2M1307.7 402.1L1312.4 424.5M1266.2 405.6L1265.2 428.3M1276.6 405.7L1277.0 428.5M1293.1 404.5L1295.8 427.2M1260.1 405.2L1258.4 427.9M1294.8 404.3L1297.7 426.9M1246.0 403.5L1242.3 426.0M1239.1 402.3L1234.5 424.6M1187.2 382.4L1175.7 402.1M1200.7 389.5L1191.0 410.2M1172.6 372.8L1159.1 391.2M1162.5 364.9L1147.7 382.2M1159.4 362.1L1144.1 379.0M1153.3 356.3L1137.2 372.5M1133.8 333.3L1115.2 346.4M1109.9 283.5L1088.0 290.0M1105.8 204.7L1083.4 200.5M1106.8 199.7L1084.5 194.9M1103.7 220.2L1081.0 218.1M1138.0 132.3L1119.9 118.4M1134.0 137.6L1115.4 124.5M1134.6 136.9L1116.0 123.6M1159.3 109.1L1144.1 92.2M1150.5 117.7L1134.1 101.9M1193.5 85.3L1182.8 65.1M1213.8 76.2L1205.8 54.8M1210.9 77.3L1202.6 56.0M1229.0 71.3L1223.1 49.3M1203.8 80.3L1194.5 59.4M1227.1 71.8L1220.9 49.9" stroke="#f2c200" stroke-width="2.0" stroke-opacity="0.85" fill="none"/>
<path d="M1342.9 80.5L1352.3 59.7M1316.7 71.2L1322.5 49.1M1288.2 66.2L1290.3 43.5M1384.3 106.9L1399.2 89.6M1400.9 123.3L1418.0 108.3M1402.8 125.5L1420.1 110.7M1374.6 99.1L1388.2 80.8M1368.5 94.8L1381.3 75.9M1433.2 178.0L1454.6 170.3M1435.0 183.5L1456.7 176.5M1427.2 163.5L1447.8 153.8M1416.1 143.5L1435.2 131.1M1430.7 171.6L1451.8 163.0M1442.5 220.5L1465.2 218.4M1441.4 211.2L1464.0 207.9M1442.7 248.4L1465.5 250.1M1442.2 217.2L1464.9 214.7M1440.4 266.5L1462.8 270.6M1440.6 265.4L1463.0 269.4M1439.9 269.1L1462.2 273.5M1417.2 326.0L1436.5 338.1M1419.4 322.4L1439.0 334.0M1396.3 352.9L1412.8 368.6M1407.0 340.5L1425.0 354.5M1405.7 342.2L1423.4 356.5M1379.1 368.6L1393.3 386.4M1319.4 399.3L1325.6 421.2M1306.5 402.4L1311.0 424.7M1280.6 405.5L1281.6 428.3M1268.3 405.6L1267.6 428.4M1213.9 395.1L1205.9 416.4M1246.1 403.5L1242.5 426.1M1241.3 402.7L1237.0 425.1M1203.5 390.8L1194.2 411.6M1157.4 360.3L1141.9 377.1M1133.9 333.4L1115.3 346.5M1133.4 332.6L1114.6 345.6M1104.6 258.5L1082.0 261.6M1110.5 185.5L1088.7 178.8M1111.1 183.9L1089.3 176.9M1119.3 163.0L1098.7 153.3M1136.9 133.8L1118.6 120.1M1159.7 108.8L1144.5 91.8M1173.0 98.1L1159.5 79.7M1186.0 89.5L1174.4 69.9M1229.0 71.3L1223.1 49.3M1227.4 71.8L1221.3 49.8" stroke="#f2c200" stroke-width="2.0" stroke-opacity="1.0" fill="none"/>
<path d="M1324.5 73.4L1331.3 51.7M1309.1 69.4L1313.9 47.1M1297.0 67.2L1300.2 44.6M1316.8 71.2L1322.7 49.2M1335.6 77.4L1344.0 56.2M1300.5 67.7L1304.1 45.2M1328.5 74.8L1336.0 53.2M1376.3 100.4L1390.2 82.3M1407.0 130.7L1425.0 116.7M1406.9 130.5L1424.8 116.4M1442.7 249.1L1465.4 250.9M1443.1 241.6L1465.9 242.4M1433.7 291.7L1455.2 299.2M1411.2 334.9L1429.7 348.2M1413.1 332.2L1431.8 345.2M1362.8 380.2L1374.8 399.5M1364.0 379.4L1376.2 398.7M1357.1 383.5L1368.4 403.3M1329.1 396.2L1336.6 417.8M1327.0 396.9L1334.2 418.6M1330.7 395.7L1338.4 417.1M1329.2 396.2L1336.8 417.7M1331.0 395.5L1338.8 417.0M1305.7 402.6L1310.0 424.9M1289.2 404.9L1291.4 427.6M1273.8 405.7L1273.9 428.5M1255.7 404.8L1253.4 427.5M1287.6 405.1L1289.6 427.8M1265.6 405.5L1264.6 428.3M1279.9 405.6L1280.9 428.3M1228.2 399.7L1222.1 421.6M1188.2 383.0L1176.8 402.8M1202.5 390.3L1193.0 411.1M1154.2 357.2L1138.2 373.5M1154.8 357.8L1138.9 374.2M1155.3 358.3L1139.5 374.7M1155.9 358.9L1140.2 375.4M1121.7 313.1L1101.4 323.5M1120.6 310.9L1100.1 321.0M1129.6 327.0L1110.4 339.2M1107.6 275.1L1085.5 280.4M1112.0 290.1L1090.4 297.4M1103.0 237.6L1080.2 237.9M1104.3 214.9L1081.6 212.2M1105.6 206.0L1083.1 202.0M1134.5 137.1L1115.9 123.8M1150.1 118.1L1133.7 102.3M1237.1 69.4L1232.3 47.1M1201.6 81.3L1192.0 60.6" stroke="#f2c200" stroke-width="1.2" stroke-opacity="0.85" fill="none"/>
<path d="M1327.9 74.6L1335.3 53.0M1328.0 74.6L1335.4 53.0M1295.9 67.0L1298.9 44.4M1287.2 66.1L1289.1 43.4M1337.2 78.1L1345.8 56.9M1377.6 101.4L1391.6 83.4M1359.0 88.8L1370.5 69.1M1398.3 120.5L1415.1 105.0M1405.4 128.7L1423.1 114.3M1415.4 142.4L1434.5 129.9M1433.7 179.5L1455.2 172.0M1443.2 234.9L1466.0 234.8M1440.4 204.8L1462.8 200.6M1442.1 216.1L1464.7 213.5M1443.2 238.0L1466.0 238.4M1427.9 306.2L1448.6 315.6M1426.9 308.3L1447.5 318.0M1433.2 293.2L1454.6 300.9M1433.1 293.4L1454.5 301.2M1422.6 316.8L1442.6 327.7M1304.1 402.9L1308.2 425.3M1284.7 405.3L1286.3 428.0M1292.5 404.6L1295.1 427.2M1239.3 402.3L1234.7 424.6M1179.7 377.7L1167.1 396.8M1173.8 373.7L1160.5 392.2M1159.4 362.2L1144.2 379.1M1106.3 268.7L1083.9 273.2M1112.4 291.4L1090.9 298.8M1103.0 234.2L1080.2 234.0M1103.0 236.1L1080.2 236.1M1104.3 214.5L1081.7 211.6M1114.5 174.1L1093.3 165.8M1112.5 179.7L1090.9 172.2M1122.9 155.8L1102.8 145.1M1128.2 146.6L1108.7 134.6M1138.4 131.8L1120.3 117.8M1137.4 133.1L1119.2 119.3M1173.4 97.8L1160.1 79.3M1193.5 85.3L1182.9 65.1M1186.2 89.4L1174.6 69.8M1205.9 79.3L1196.9 58.4" stroke="#f2c200" stroke-width="1.2" stroke-opacity="1.0" fill="none"/>
<path d="M1274.16,83.60 A152,152 0 0 1 1339.12,98.69 L1328.48,120.76 A127.5,127.5 0 0 0 1273.99,108.10 Z" fill="#353535"/>
<path d="M1343.63,100.95 A152,152 0 0 1 1393.37,142.65 L1373.98,157.63 A127.5,127.5 0 0 0 1332.26,122.66 Z" fill="#353535"/>
<path d="M1396.38,146.69 A152,152 0 0 1 1419.49,194.70 L1395.90,201.29 A127.5,127.5 0 0 0 1376.51,161.02 Z" fill="#353535"/>
<path d="M1420.77,199.57 A152,152 0 0 1 1424.36,250.57 L1399.98,248.16 A127.5,127.5 0 0 0 1396.97,205.38 Z" fill="#353535"/>
<path d="M1423.78,255.58 A152,152 0 0 1 1409.68,302.32 L1387.66,291.56 A127.5,127.5 0 0 0 1399.49,252.36 Z" fill="#353535"/>
<path d="M1407.39,306.81 A152,152 0 0 1 1379.97,343.69 L1362.75,326.26 A127.5,127.5 0 0 0 1385.74,295.33 Z" fill="#353535"/>
<path d="M1376.33,347.17 A152,152 0 0 1 1341.05,371.57 L1330.10,349.65 A127.5,127.5 0 0 0 1359.69,329.19 Z" fill="#353535"/>
<path d="M1336.51,373.74 A152,152 0 0 1 1299.18,385.35 L1294.97,361.21 A127.5,127.5 0 0 0 1326.29,351.48 Z" fill="#353535"/>
<path d="M1294.20,386.13 A152,152 0 0 1 1256.92,386.74 L1259.53,362.38 A127.5,127.5 0 0 0 1290.80,361.87 Z" fill="#353535"/>
<path d="M1251.92,386.12 A152,152 0 0 1 1217.07,376.89 L1226.10,354.12 A127.5,127.5 0 0 0 1255.33,361.86 Z" fill="#353535"/>
<path d="M1212.41,374.96 A152,152 0 0 1 1181.02,356.54 L1195.86,337.04 A127.5,127.5 0 0 0 1222.19,352.50 Z" fill="#353535"/>
<path d="M1177.06,353.42 A152,152 0 0 1 1152.10,327.60 L1171.61,312.77 A127.5,127.5 0 0 0 1192.54,334.43 Z" fill="#353535"/>
<path d="M1149.12,323.54 A152,152 0 0 1 1133.92,296.71 L1156.36,286.86 A127.5,127.5 0 0 0 1169.10,309.36 Z" fill="#353535"/>
<path d="M1131.97,292.06 A152,152 0 0 1 1123.85,264.36 L1147.90,259.72 A127.5,127.5 0 0 0 1154.72,282.96 Z" fill="#353535"/>
<path d="M1122.97,259.40 A152,152 0 0 1 1121.14,231.95 L1145.64,232.54 A127.5,127.5 0 0 0 1147.17,255.56 Z" fill="#353535"/>
<path d="M1121.35,226.91 A152,152 0 0 1 1124.69,202.77 L1148.61,208.06 A127.5,127.5 0 0 0 1145.81,228.31 Z" fill="#353535"/>
<path d="M1125.86,197.87 A152,152 0 0 1 1133.03,176.58 L1155.60,186.09 A127.5,127.5 0 0 0 1149.59,203.95 Z" fill="#353535"/>
<path d="M1135.06,171.97 A152,152 0 0 1 1145.52,152.97 L1166.09,166.29 A127.5,127.5 0 0 0 1157.31,182.22 Z" fill="#353535"/>
<path d="M1148.33,148.78 A152,152 0 0 1 1158.03,136.28 L1176.58,152.29 A127.5,127.5 0 0 0 1168.44,162.78 Z" fill="#353535"/>
<path d="M1161.39,132.52 A152,152 0 0 1 1173.90,120.43 L1189.89,139.00 A127.5,127.5 0 0 0 1179.40,149.14 Z" fill="#353535"/>
<path d="M1177.77,117.21 A152,152 0 0 1 1187.92,109.71 L1201.65,130.00 A127.5,127.5 0 0 0 1193.14,136.29 Z" fill="#353535"/>
<path d="M1192.14,106.96 A152,152 0 0 1 1204.07,100.18 L1215.19,122.01 A127.5,127.5 0 0 0 1205.19,127.69 Z" fill="#353535"/>
<path d="M1208.59,97.97 A152,152 0 0 1 1248.73,85.57 L1252.66,109.75 A127.5,127.5 0 0 0 1218.99,120.15 Z" fill="#353535"/>
<path d="M1253.72,84.84 A152,152 0 0 1 1269.12,83.65 L1269.76,108.14 A127.5,127.5 0 0 0 1256.84,109.14 Z" fill="#353535"/>
<path d="M1301.7 110.7L1306.9 88.0M1296.9 109.7L1301.3 86.8M1277.7 107.6L1278.5 84.3M1287.4 108.3L1290.0 85.1M1324.7 118.4L1334.1 97.0M1322.2 117.3L1331.2 95.8M1371.1 153.2L1389.0 138.2M1363.4 144.8L1379.9 128.2M1379.9 164.9L1399.4 152.1M1384.1 171.7L1404.3 160.1M1397.9 264.3L1420.6 269.6M1320.3 354.7L1328.9 376.3M1313.1 357.3L1320.4 379.4M1281.4 363.4L1282.9 386.7M1231.0 356.6L1223.3 378.6M1247.5 361.1L1242.8 383.9M1211.3 347.8L1200.1 368.2M1215.8 350.2L1205.4 371.0M1174.1 316.8L1156.0 331.6M1160.7 297.0L1140.2 308.2M1151.9 276.9L1129.8 284.5M1145.3 244.5L1122.1 246.1M1145.4 225.7L1122.2 223.9M1149.6 201.6L1127.1 195.4M1152.1 193.6L1130.1 185.9M1149.2 203.1L1126.7 197.2M1152.8 191.6L1130.9 183.6M1150.2 199.6L1127.8 193.0M1157.2 181.1L1136.1 171.1M1160.6 174.3L1140.2 163.1M1194.6 134.4L1180.3 116.0M1209.5 124.4L1197.9 104.2" stroke="#b00010" stroke-width="0.5" stroke-opacity="0.15" fill="none"/>
<path d="M1276.9 107.6L1277.6 84.3M1308.2 112.4L1314.5 90.0M1309.7 112.8L1316.4 90.5M1379.7 164.6L1399.1 151.7M1394.9 275.2L1417.1 282.4M1396.5 270.1L1418.9 276.4M1391.5 284.6L1413.0 293.5M1365.4 324.4L1382.2 340.6M1377.6 309.6L1396.7 323.1M1382.9 301.7L1402.8 313.7M1337.8 346.2L1349.6 366.3M1301.0 360.6L1306.1 383.4M1318.5 355.4L1326.7 377.2M1321.3 354.3L1330.0 375.9M1249.4 361.5L1245.1 384.4M1202.1 342.3L1189.2 361.7M1200.5 341.1L1187.3 360.3M1171.7 313.9L1153.3 328.1M1179.3 322.9L1162.3 338.7M1164.3 303.2L1144.5 315.5M1149.0 267.3L1126.4 273.1M1148.0 263.0L1125.2 268.0M1150.4 272.3L1128.0 278.9M1145.2 243.2L1122.0 244.6M1145.4 245.8L1122.2 247.6M1145.4 225.3L1122.2 223.5M1146.6 215.5L1123.6 211.8M1152.3 193.1L1130.3 185.4M1164.0 168.5L1144.2 156.3M1187.4 140.4L1171.9 123.0M1187.0 140.8L1171.3 123.5M1196.2 133.2L1182.2 114.6M1200.3 130.2L1187.1 111.0M1196.8 132.7L1182.9 114.0M1208.9 124.7L1197.3 104.6M1207.8 125.4L1195.9 105.3M1209.7 124.3L1198.2 104.0M1237.4 112.6L1230.9 90.2" stroke="#b00010" stroke-width="1.5" stroke-opacity="0.15" fill="none"/>
<path d="M1282.4 107.8L1284.1 84.6M1288.9 108.5L1291.8 85.4M1285.7 108.1L1288.0 84.9M1372.7 155.0L1390.8 140.4M1360.4 141.8L1376.3 124.8M1334.2 123.0L1345.3 102.5M1378.3 162.6L1397.5 149.3M1380.1 165.1L1399.5 152.3M1400.9 244.8L1424.1 246.5M1396.1 271.4L1418.5 277.9M1395.8 272.5L1418.1 279.3M1374.5 313.9L1392.9 328.1M1332.5 349.1L1343.3 369.7M1334.4 348.1L1345.5 368.6M1304.2 359.9L1309.9 382.5M1270.7 363.7L1270.2 387.0M1272.6 363.7L1272.5 387.0M1240.8 359.6L1235.0 382.1M1235.8 358.1L1229.0 380.4M1234.2 357.6L1227.1 379.8M1227.7 355.4L1219.5 377.2M1178.5 322.0L1161.3 337.7M1165.4 305.0L1145.8 317.6M1147.5 260.8L1124.7 265.4M1150.3 272.0L1127.9 278.7M1145.1 240.9L1121.8 241.8M1145.0 237.2L1121.7 237.5M1146.1 252.4L1123.0 255.5M1145.8 221.1L1122.7 218.4M1147.0 212.9L1124.1 208.8M1145.3 226.2L1122.1 224.5M1151.3 196.1L1129.1 188.9M1150.1 199.7L1127.8 193.1M1164.5 167.6L1144.8 155.2M1175.5 152.7L1157.7 137.6M1170.3 159.1L1151.6 145.2M1175.7 152.5L1157.9 137.3M1195.5 133.7L1181.4 115.2M1206.1 126.4L1193.9 106.6M1220.0 119.0L1210.4 97.8M1234.9 113.3L1227.9 91.1M1239.9 111.9L1233.9 89.4M1231.0 114.6L1223.4 92.6M1250.1 109.6L1245.9 86.7" stroke="#b00010" stroke-width="0.5" stroke-opacity="0.5" fill="none"/>
<path d="M1307.9 112.3L1314.2 89.9M1293.1 109.1L1296.7 86.1M1277.4 107.6L1278.1 84.3M1311.7 113.5L1318.7 91.2M1371.0 153.0L1388.8 138.0M1354.2 136.5L1369.0 118.4M1380.7 166.1L1400.3 153.5M1382.1 168.4L1402.0 156.1M1379.5 164.2L1398.8 151.2M1377.5 309.8L1396.5 323.3M1343.2 342.8L1355.9 362.3M1269.3 363.6L1268.6 386.9M1269.0 363.6L1268.3 386.9M1268.4 363.6L1267.5 386.9M1232.3 357.0L1224.9 379.1M1230.2 356.3L1222.4 378.3M1209.1 346.5L1197.4 366.7M1195.9 337.9L1181.9 356.5M1166.0 305.9L1146.5 318.6M1147.9 262.5L1125.1 267.4M1146.5 215.8L1123.5 212.2M1146.8 214.2L1123.8 210.3M1149.2 203.0L1126.7 197.1M1163.3 169.7L1143.3 157.7M1159.2 177.0L1138.5 166.3M1164.3 168.1L1144.5 155.8M1175.6 152.5L1157.9 137.4M1170.6 158.7L1152.0 144.7M1181.9 145.7L1165.3 129.3M1184.4 143.2L1168.3 126.3M1194.9 134.1L1180.7 115.7M1250.6 109.5L1246.5 86.5M1244.9 110.7L1239.7 87.9" stroke="#b00010" stroke-width="1.5" stroke-opacity="0.5" fill="none"/>
<path d="M1302.5 110.9L1307.9 88.3M1313.6 114.1L1321.0 92.0M1284.2 108.0L1286.2 84.8M1324.0 118.1L1333.3 96.7M1348.1 131.7L1361.7 112.8M1333.2 122.5L1344.2 101.9M1370.2 152.1L1387.9 136.9M1400.7 223.9L1423.9 221.8M1397.4 266.7L1420.0 272.3M1393.2 280.1L1415.1 288.2M1394.8 275.6L1416.9 282.9M1379.7 306.6L1399.1 319.6M1350.9 337.4L1365.1 355.9M1271.0 363.7L1270.6 387.0M1290.3 362.5L1293.4 385.6M1284.9 363.2L1287.1 386.4M1245.3 360.6L1240.2 383.4M1214.4 349.5L1203.7 370.2M1215.4 350.0L1205.0 370.8M1201.1 341.6L1188.0 360.8M1173.3 315.9L1155.1 330.5M1148.2 264.0L1125.5 269.1M1145.2 242.9L1121.9 244.2M1146.2 218.2L1123.1 215.0M1147.1 212.5L1124.2 208.3M1149.2 203.1L1126.6 197.2M1150.0 200.2L1127.6 193.7M1152.2 193.4L1130.2 185.7M1163.0 170.1L1143.0 158.2M1162.9 170.3L1142.8 158.5M1165.0 166.8L1145.4 154.3M1188.9 139.0L1173.6 121.5M1186.8 140.9L1171.1 123.7M1182.0 145.6L1165.4 129.2M1184.9 142.7L1168.9 125.8M1208.1 125.2L1196.3 105.1M1246.0 110.4L1241.0 87.6M1226.2 116.4L1217.7 94.7M1248.9 109.8L1244.5 86.9" stroke="#b00010" stroke-width="0.5" stroke-opacity="0.3" fill="none"/>
<path d="M1308.9 112.6L1315.4 90.2M1320.4 116.5L1329.0 94.9M1278.9 107.6L1280.0 84.4M1373.6 156.1L1391.8 141.7M1378.4 162.7L1397.6 149.5M1378.9 163.4L1398.2 150.3M1394.6 276.2L1416.7 283.6M1341.2 344.1L1353.6 363.9M1316.4 356.2L1324.3 378.1M1302.0 360.4L1307.2 383.1M1282.6 363.3L1284.3 386.6M1244.7 360.5L1239.5 383.2M1239.2 359.1L1233.0 381.6M1240.0 359.3L1234.0 381.9M1233.8 357.5L1226.7 379.7M1203.1 342.9L1190.3 362.4M1181.4 325.0L1164.7 341.3M1184.0 327.6L1167.7 344.3M1146.4 254.2L1123.3 257.6M1145.5 224.1L1122.3 222.0M1147.6 210.1L1124.7 205.5M1149.4 202.2L1126.9 196.1M1149.6 201.6L1127.1 195.4M1160.9 173.8L1140.5 162.6M1164.9 167.1L1145.2 154.6M1174.1 154.3L1156.1 139.5M1187.4 140.4L1171.8 123.0M1200.1 130.3L1186.8 111.2M1206.9 125.9L1194.8 106.0M1208.6 124.9L1196.8 104.8M1231.0 114.6L1223.3 92.6" stroke="#b00010" stroke-width="1.5" stroke-opacity="0.3" fill="none"/>
<path d="M1325.4 118.7L1335.0 97.4M1326.9 119.4L1336.7 98.2M1401.2 237.6L1424.5 238.0M1400.9 226.8L1424.1 225.1M1369.5 319.9L1387.1 335.3M1341.6 343.8L1354.1 363.5M1355.3 333.9L1370.2 351.8M1356.4 332.9L1371.6 350.6M1320.5 354.6L1329.1 376.3M1277.3 363.6L1278.0 386.9M1239.7 359.3L1233.6 381.8M1219.5 351.9L1209.7 373.1M1203.2 343.0L1190.5 362.5M1180.4 324.0L1163.5 340.1M1165.4 305.0L1145.8 317.6M1148.7 266.2L1126.1 271.8M1145.1 239.8L1121.8 240.5M1146.0 251.2L1122.8 254.1M1145.9 250.5L1122.7 253.2M1145.5 247.1L1122.3 249.2M1145.8 221.3L1122.6 218.7M1146.9 213.7L1123.9 209.7M1147.2 211.8L1124.3 207.5M1153.4 190.1L1131.6 181.8M1151.6 195.1L1129.5 187.8M1160.7 174.2L1140.2 163.1M1161.5 172.8L1141.2 161.3M1183.0 144.6L1166.6 128.0M1199.3 130.9L1185.8 111.9M1213.3 122.3L1202.4 101.7M1222.2 118.0L1213.0 96.7" stroke="#b00010" stroke-width="0.9" stroke-opacity="0.5" fill="none"/>
<path d="M1371.8 153.9L1389.7 139.0M1401.2 237.0L1424.5 237.3M1394.8 275.5L1417.0 282.7M1321.4 354.3L1330.2 375.8M1269.0 363.6L1268.3 386.9M1174.6 317.4L1156.6 332.3M1158.4 292.6L1137.5 303.0M1150.2 271.9L1127.9 278.5M1181.8 145.8L1165.1 129.4M1183.9 143.6L1167.7 126.9M1193.8 135.0L1179.4 116.7M1246.8 110.2L1242.0 87.4M1251.9 109.3L1248.1 86.3M1231.8 114.4L1224.2 92.3M1240.2 111.8L1234.2 89.3M1222.3 118.0L1213.1 96.6" stroke="#b00010" stroke-width="0.9" stroke-opacity="0.15" fill="none"/>
<path d="M1400.0 217.9L1423.1 214.7M1399.8 216.5L1422.8 213.1M1378.7 308.1L1397.9 321.3M1284.2 363.2L1286.2 386.4M1289.4 362.7L1292.4 385.8M1236.6 358.4L1230.0 380.7M1204.8 343.9L1192.3 363.6M1196.0 337.9L1182.0 356.5M1204.0 343.5L1191.5 363.1M1218.1 351.3L1208.2 372.4M1184.8 328.4L1168.7 345.2M1146.0 251.7L1122.9 254.6M1145.7 248.6L1122.5 251.0M1145.4 245.6L1122.2 247.4M1146.4 217.0L1123.3 213.6M1145.8 220.9L1122.7 218.2M1146.4 216.6L1123.4 213.2M1152.1 193.7L1130.0 186.0M1152.9 191.4L1131.0 183.3M1157.5 180.3L1136.5 170.3M1161.8 172.2L1141.6 160.6M1174.2 154.1L1156.3 139.3M1174.1 154.4L1156.0 139.6M1186.9 140.9L1171.2 123.6M1207.5 125.6L1195.6 105.6M1227.5 115.9L1219.2 94.1M1250.7 109.5L1246.7 86.5" stroke="#b00010" stroke-width="0.9" stroke-opacity="0.3" fill="none"/>
<text x="1321.6" y="28.3" font-size="26" font-style="italic" text-anchor="middle" dy="0.36em" transform="rotate(13.2 1321.6 28.3)">1</text>
<text x="1407.8" y="74.6" font-size="26" font-style="normal" text-anchor="middle" dy="0.36em" transform="rotate(39.9 1407.8 74.6)">2</text>
<text x="1460.3" y="135.8" font-size="26" font-style="normal" text-anchor="middle" dy="0.36em" transform="rotate(62.0 1460.3 135.8)">3</text>
<text x="1485.3" y="203.3" font-size="26" font-style="normal" text-anchor="middle" dy="0.36em" transform="rotate(81.4 1485.3 203.3)">4</text>
<text x="1481.6" y="285.9" font-size="26" font-style="normal" text-anchor="middle" dy="0.36em" transform="rotate(-76.4 1481.6 285.9)">5</text>
<text x="1451.6" y="348.4" font-size="26" font-style="normal" text-anchor="middle" dy="0.36em" transform="rotate(-57.7 1451.6 348.4)">6</text>
<text x="1399.1" y="402.1" font-size="26" font-style="normal" text-anchor="middle" dy="0.36em" transform="rotate(-37.1 1399.1 402.1)">7</text>
<text x="1344.1" y="433.4" font-size="26" font-style="normal" text-anchor="middle" dy="0.36em" transform="rotate(-19.8 1344.1 433.4)">8</text>
<text x="1280.3" y="443.4" font-size="26" font-style="italic" text-anchor="middle" dy="0.36em" transform="rotate(-2.0 1280.3 443.4)">9</text>
<text x="1217.8" y="435.9" font-size="26" font-style="italic" text-anchor="middle" dy="0.36em" transform="rotate(15.4 1217.8 435.9)">10</text>
<text x="1161.6" y="414.6" font-size="26" font-style="italic" text-anchor="middle" dy="0.36em" transform="rotate(31.9 1161.6 414.6)">11</text>
<text x="1114.1" y="374.6" font-size="26" font-style="normal" text-anchor="middle" dy="0.36em" transform="rotate(48.8 1114.1 374.6)">12</text>
<text x="1081.6" y="329.6" font-size="26" font-style="normal" text-anchor="middle" dy="0.36em" transform="rotate(63.9 1081.6 329.6)">13</text>
<text x="1065.3" y="288.4" font-size="26" font-style="normal" text-anchor="middle" dy="0.36em" transform="rotate(75.8 1065.3 288.4)">14</text>
<text x="1056.6" y="245.8" font-size="26" font-style="normal" text-anchor="middle" dy="0.36em" transform="rotate(87.3 1056.6 245.8)">15</text>
<text x="1060.3" y="198.3" font-size="26" font-style="italic" text-anchor="middle" dy="0.36em" transform="rotate(279.9 1060.3 198.3)">16</text>
<text x="1072.8" y="159.6" font-size="26" font-style="italic" text-anchor="middle" dy="0.36em" transform="rotate(290.8 1072.8 159.6)">17</text>
<text x="1087.8" y="125.8" font-size="26" font-style="normal" text-anchor="middle" dy="0.36em" transform="rotate(300.6 1087.8 125.8)">18</text>
<text x="1106.6" y="99.6" font-size="26" font-style="normal" text-anchor="middle" dy="0.36em" transform="rotate(309.2 1106.6 99.6)">19</text>
<text x="1125.3" y="78.3" font-size="26" font-style="normal" text-anchor="middle" dy="0.36em" transform="rotate(316.8 1125.3 78.3)">20</text>
<text x="1147.8" y="67.1" font-size="26" font-style="normal" text-anchor="middle" dy="0.36em" transform="rotate(323.4 1147.8 67.1)">21</text>
<text x="1171.6" y="44.6" font-size="26" font-style="normal" text-anchor="middle" dy="0.36em" transform="rotate(332.0 1171.6 44.6)">22</text>
<text x="1210.3" y="34.6" font-size="26" font-style="normal" text-anchor="middle" dy="0.36em" transform="rotate(342.7 1210.3 34.6)">X</text>
<text x="1257.8" y="23.3" font-size="26" font-style="normal" text-anchor="middle" dy="0.36em" transform="rotate(355.9 1257.8 23.3)">Y</text>
<text x="1274.4" y="212.5" font-size="35.3" font-weight="bold" fill="#2b2b2b" text-anchor="middle">SK-N-BE2c</text>
<text x="1273.8" y="253.8" font-size="35.4" fill="#2b2b2b" text-anchor="middle">406 / 1680</text>
<text x="1227.3" y="280.0" font-size="24" fill="#c00000" text-anchor="middle">PAMs</text>
<text x="1316.5" y="280.0" font-size="24" fill="#ffc000" text-anchor="middle">SNVs</text>
<rect x="1205.5" y="128.1" width="19.5" height="19.5" rx="3.2" fill="#9467bd" transform="rotate(0 1215.2 137.8)"/>
<rect x="1183.7" y="145.1" width="19.5" height="19.5" rx="3.2" fill="#72c077" transform="rotate(0 1193.4 154.8)"/>
<rect x="1366.5" y="266.4" width="19.5" height="19.5" rx="3.2" fill="#ff8115" transform="rotate(-18 1376.2 276.2)"/>
<rect x="1181.8" y="305.1" width="19.5" height="19.5" rx="3.2" fill="#dc4b4b" transform="rotate(-5 1191.6 314.8)"/>
<rect x="1203.7" y="321.1" width="19.5" height="19.5" rx="3.2" fill="#2575b5" transform="rotate(0 1213.4 330.9)"/>
<circle cx="726.5" cy="255.0" r="38.60" fill="none" stroke="#c4c4c4" stroke-width="1.3"/>
<circle cx="726.5" cy="255.0" r="77.20" fill="none" stroke="#c4c4c4" stroke-width="1.3"/>
<circle cx="726.5" cy="255.0" r="115.80" fill="none" stroke="#c4c4c4" stroke-width="1.3"/>
<circle cx="726.5" cy="255.0" r="154.40" fill="none" stroke="#c4c4c4" stroke-width="1.3"/>
<line x1="726.5" y1="255.0" x2="635.9" y2="84.6" stroke="#c4c4c4" stroke-width="1.3"/>
<line x1="726.5" y1="255.0" x2="827.3" y2="90.4" stroke="#c4c4c4" stroke-width="1.3"/>
<line x1="726.5" y1="255.0" x2="919.5" y2="255.0" stroke="#c4c4c4" stroke-width="1.3"/>
<line x1="726.5" y1="255.0" x2="818.6" y2="424.6" stroke="#c4c4c4" stroke-width="1.3"/>
<line x1="726.5" y1="255.0" x2="628.5" y2="421.3" stroke="#c4c4c4" stroke-width="1.3"/>
<line x1="726.5" y1="255.0" x2="533.6" y2="248.3" stroke="#c4c4c4" stroke-width="1.3"/>
<path d="M919.4,248.3 A193,193 0 0 0 534.6,234.8" fill="none" stroke="#333" stroke-width="1.2"/>
<path d="M533.6,261.7 A193,193 0 0 0 607.7,407.1" fill="none" stroke="#333" stroke-width="1.2"/>
<path d="M644.9,429.9 A193,193 0 0 0 918.8,271.8" fill="none" stroke="#333" stroke-width="1.2"/>
<polygon points="637.5,87.6 825.0,94.3 910.2,255.0 769.0,333.2 665.8,358.0 536.6,248.4" fill="#2575b5" fill-opacity="0.105" stroke="none"/>
<polygon points="648.2,107.8 826.0,92.6 913.0,255.0 775.2,344.6 686.9,322.2 536.6,248.4" fill="#ff8115" fill-opacity="0.105" stroke="none"/>
<polygon points="694.6,195.0 782.9,162.9 740.5,255.0 798.8,388.1 630.6,417.8 677.5,253.3" fill="#2e9e3a" fill-opacity="0.105" stroke="none"/>
<polygon points="698.8,202.9 814.3,111.8 882.5,255.0 773.0,340.6 688.4,319.6 536.6,248.4" fill="#d62728" fill-opacity="0.105" stroke="none"/>
<polygon points="637.5,87.6 825.0,94.3 910.2,255.0 769.0,333.2 665.8,358.0 536.6,248.4" fill="none" stroke="#2575b5" stroke-width="2.4" stroke-linejoin="miter"/>
<polygon points="648.2,107.8 826.0,92.6 913.0,255.0 775.2,344.6 686.9,322.2 536.6,248.4" fill="none" stroke="#ff8115" stroke-width="2.4" stroke-linejoin="miter"/>
<polygon points="694.6,195.0 782.9,162.9 740.5,255.0 798.8,388.1 630.6,417.8 677.5,253.3" fill="none" stroke="#2e9e3a" stroke-width="2.4" stroke-linejoin="miter"/>
<polygon points="698.8,202.9 814.3,111.8 882.5,255.0 773.0,340.6 688.4,319.6 536.6,248.4" fill="none" stroke="#d62728" stroke-width="2.4" stroke-linejoin="miter"/>
<text x="614.8" y="46.3" font-size="27" text-anchor="middle">Doench/Moreno</text>
<text x="615.6" y="78.8" font-size="27" text-anchor="middle">(40-60)</text>
<text x="864.0" y="41.3" font-size="27" text-anchor="middle">CFD</text>
<text x="863.8" y="73.8" font-size="27" text-anchor="middle">(30-100)</text>
<text x="941.5" y="277.5" font-size="27" text-anchor="middle">MIT</text>
<text x="941.5" y="308.3" font-size="27" text-anchor="middle">(30-100)</text>
<text x="536.0" y="297.3" font-size="27" text-anchor="middle">Gene</text>
<text x="536.0" y="329.8" font-size="27" text-anchor="middle">dependency</text>
<text x="536.0" y="362.6" font-size="27" text-anchor="middle">(-2 - 0)</text>
<text x="626.0" y="437.2" font-size="27" text-anchor="middle">Expression</text>
<text x="625.6" y="470.6" font-size="27" text-anchor="middle">[TPM]</text>
<text x="625.8" y="503.0" font-size="27" text-anchor="middle">(9-17)</text>
<text x="825.0" y="417.2" font-size="27" text-anchor="middle">Copy</text>
<text x="824.5" y="449.2" font-size="27" text-anchor="middle">number</text>
<text x="824.8" y="482.5" font-size="27" text-anchor="middle">(0-4)</text>
<circle cx="1732.5" cy="265.0" r="40.40" fill="none" stroke="#c4c4c4" stroke-width="1.3"/>
<circle cx="1732.5" cy="265.0" r="80.80" fill="none" stroke="#c4c4c4" stroke-width="1.3"/>
<circle cx="1732.5" cy="265.0" r="121.20" fill="none" stroke="#c4c4c4" stroke-width="1.3"/>
<circle cx="1732.5" cy="265.0" r="161.60" fill="none" stroke="#c4c4c4" stroke-width="1.3"/>
<line x1="1732.5" y1="265.0" x2="1794.9" y2="72.9" stroke="#c4c4c4" stroke-width="1.3"/>
<line x1="1732.5" y1="265.0" x2="1934.5" y2="265.0" stroke="#c4c4c4" stroke-width="1.3"/>
<line x1="1732.5" y1="265.0" x2="1794.9" y2="457.1" stroke="#c4c4c4" stroke-width="1.3"/>
<line x1="1732.5" y1="265.0" x2="1569.1" y2="383.7" stroke="#c4c4c4" stroke-width="1.3"/>
<line x1="1732.5" y1="265.0" x2="1569.1" y2="146.3" stroke="#c4c4c4" stroke-width="1.3"/>
<path d="M1933.4,243.9 A202,202 0 0 0 1804.9,76.4" fill="none" stroke="#333" stroke-width="1.2"/>
<path d="M1739.5,63.1 A202,202 0 0 0 1548.0,347.2" fill="none" stroke="#333" stroke-width="1.2"/>
<path d="M1589.7,407.8 A202,202 0 0 0 1929.3,310.4" fill="none" stroke="#333" stroke-width="1.2"/>
<polygon points="1777.0,128.0 1845.0,265.0 1769.7,379.6 1607.1,356.1 1653.6,207.7" fill="#2575b5" fill-opacity="0.105" stroke="none"/>
<polygon points="1788.0,94.3 1902.5,265.0 1765.6,366.8 1624.1,343.8 1633.4,193.0" fill="#ff8115" fill-opacity="0.105" stroke="none"/>
<polygon points="1782.5,111.2 1880.0,265.0 1768.7,376.3 1624.9,343.2 1667.0,217.4" fill="#2e9e3a" fill-opacity="0.105" stroke="none"/>
<polygon points="1788.9,91.3 1901.2,265.0 1760.3,350.6 1624.5,343.5 1600.8,169.3" fill="#d62728" fill-opacity="0.105" stroke="none"/>
<polygon points="1767.4,157.5 1781.2,265.0 1763.6,360.9 1665.4,313.8 1695.7,238.3" fill="#9467bd" fill-opacity="0.105" stroke="none"/>
<polygon points="1777.0,128.0 1845.0,265.0 1769.7,379.6 1607.1,356.1 1653.6,207.7" fill="none" stroke="#2575b5" stroke-width="2.4" stroke-linejoin="miter"/>
<polygon points="1788.0,94.3 1902.5,265.0 1765.6,366.8 1624.1,343.8 1633.4,193.0" fill="none" stroke="#ff8115" stroke-width="2.4" stroke-linejoin="miter"/>
<polygon points="1782.5,111.2 1880.0,265.0 1768.7,376.3 1624.9,343.2 1667.0,217.4" fill="none" stroke="#2e9e3a" stroke-width="2.4" stroke-linejoin="miter"/>
<polygon points="1788.9,91.3 1901.2,265.0 1760.3,350.6 1624.5,343.5 1600.8,169.3" fill="none" stroke="#d62728" stroke-width="2.4" stroke-linejoin="miter"/>
<polygon points="1767.4,157.5 1781.2,265.0 1763.6,360.9 1665.4,313.8 1695.7,238.3" fill="none" stroke="#9467bd" stroke-width="2.4" stroke-linejoin="miter"/>
<text x="1793.9" y="34.6" font-size="27" text-anchor="middle">CFD</text>
<text x="1794.3" y="67.7" font-size="27" text-anchor="middle">(40-100)</text>
<text x="1569.0" y="110.0" font-size="27" text-anchor="middle">Doench/Moreno</text>
<text x="1569.0" y="143.0" font-size="27" text-anchor="middle">(30-70)</text>
<text x="1939.0" y="282.0" font-size="27" text-anchor="middle">MIT</text>
<text x="1939.0" y="315.0" font-size="27" text-anchor="middle">(40-100)</text>
<text x="1556.0" y="384.0" font-size="27" text-anchor="middle">Expression</text>
<text x="1556.0" y="417.0" font-size="27" text-anchor="middle">[TPM]</text>
<text x="1556.0" y="450.0" font-size="27" text-anchor="middle">(9-14)</text>
<text x="1784.0" y="418.0" font-size="27" text-anchor="middle">Copy</text>
<text x="1784.0" y="451.0" font-size="27" text-anchor="middle">number</text>
<text x="1784.0" y="484.0" font-size="27" text-anchor="middle">(1.5-2.5)</text>
<text x="17.0" y="506.3" font-size="27.5">Novel PAM target site located in:</text>
<rect x="195.5" y="528.8" width="25.2" height="19.2" fill="#2575b5" rx="3"/>
<text x="237.0" y="549.5" font-size="26.5" font-style="italic">AP1M1</text>
<rect x="341.3" y="528.8" width="25.2" height="19.2" fill="#ff8115" rx="3"/>
<text x="376.3" y="549.5" font-size="26.5" font-style="italic">SNX18</text>
<rect x="478.0" y="528.8" width="25.2" height="19.2" fill="#72c077" rx="3"/>
<text x="514.0" y="549.5" font-size="26.5" font-style="italic">RPLP0</text>
<rect x="611.0" y="528.8" width="25.2" height="19.2" fill="#d84a4a" rx="3"/>
<text x="641.0" y="549.5" font-size="26.5" font-style="italic">CHST11</text>
<rect x="1166.0" y="528.8" width="25.2" height="19.2" fill="#2575b5" rx="3"/>
<text x="1202.0" y="549.5" font-size="26.5" font-style="italic">IGSF9B</text>
<rect x="1311.0" y="528.8" width="25.2" height="19.2" fill="#ff8115" rx="3"/>
<text x="1346.0" y="549.5" font-size="26.5" font-style="italic">CHD1</text>
<rect x="1430.0" y="528.8" width="25.2" height="19.2" fill="#72c077" rx="3"/>
<text x="1463.0" y="549.5" font-size="26.5" font-style="italic">RBM12</text>
<rect x="1565.0" y="528.8" width="25.2" height="19.2" fill="#d84a4a" rx="3"/>
<text x="1597.0" y="549.5" font-size="26.5" font-style="italic">SCAF11</text>
<rect x="1709.0" y="528.8" width="25.2" height="19.2" fill="#9467bd" rx="3"/>
<text x="1742.0" y="549.5" font-size="26.5" font-style="italic">SH3BP1</text>
<text x="-1.0" y="620.5" font-size="44" font-weight="bold">b</text>
<text x="230.6" y="679.6" font-size="32">Target locus</text>
<line x1="429.0" y1="668.2" x2="1638.0" y2="667.3" stroke="#1a1a1a" stroke-width="1.4"/>
<line x1="429.0" y1="674.2" x2="1638.0" y2="673.0" stroke="#1a1a1a" stroke-width="1.4"/>
<text x="922.0" y="623.8" font-size="26.8">Double strand break</text>
<rect x="1043.8" y="648.8" width="6.2" height="47.5" fill="#c00000"/>
<text x="1063.0" y="663.3" font-size="27">PAM</text>
<text x="1426.6" y="719.0" font-size="27.3">Homology-dependent repair</text>
<line x1="452.0" y1="783.5" x2="816.6" y2="675.0" stroke="#222" stroke-width="1.6" stroke-dasharray="7,5"/>
<line x1="648.0" y1="781.5" x2="1022.5" y2="674.8" stroke="#222" stroke-width="1.6" stroke-dasharray="7,5"/>
<line x1="1071.3" y1="675.5" x2="1405.5" y2="782.0" stroke="#222" stroke-width="1.6" stroke-dasharray="7,5"/>
<line x1="1272.5" y1="674.6" x2="1607.5" y2="782.5" stroke="#222" stroke-width="1.6" stroke-dasharray="7,5"/>
<line x1="664.0" y1="879.6" x2="1396.3" y2="879.6" stroke="#222" stroke-width="1.6" stroke-dasharray="7,4.6"/>
<rect x="432.7" y="785.0" width="223.4" height="78.8" fill="#e6e6e6" stroke="#808080" stroke-width="2.8" rx="5.5"/>
<text x="548.1" y="838.8" font-size="30.5" text-anchor="middle" textLength="190" lengthAdjust="spacingAndGlyphs">5’ homol. arm</text>
<rect x="661.9" y="785.0" width="133.7" height="78.8" fill="#a6a6a6" stroke="#808080" stroke-width="2.8" rx="5.5"/>
<text x="731.3" y="838.8" font-size="30.5" text-anchor="middle" textLength="111" lengthAdjust="spacingAndGlyphs">EF1α(s)</text>
<rect x="800.9" y="785.0" width="174.0" height="78.8" fill="#e0b400" stroke="#808080" stroke-width="2.8" rx="5.5"/>
<text x="884.1" y="838.8" font-size="30.5" text-anchor="middle" textLength="121.5" lengthAdjust="spacingAndGlyphs">Cytokine</text>
<rect x="980.2" y="785.0" width="70.4" height="78.8" fill="#d2d0d2" stroke="#808080" stroke-width="2.8" rx="5.5"/>
<text x="1017.5" y="838.8" font-size="30.5" text-anchor="middle" textLength="59.5" lengthAdjust="spacingAndGlyphs">P2A</text>
<rect x="1058.4" y="785.0" width="234.0" height="78.8" fill="#404040" stroke="#808080" stroke-width="2.8" rx="5.5"/>
<text x="1160.9" y="838.8" font-size="30.5" fill="#fff" text-anchor="middle" textLength="40" lengthAdjust="spacingAndGlyphs">Q8</text>
<rect x="1297.9" y="784.9" width="8.0" height="74.7" fill="#c00000" stroke="#a0a0a0" stroke-width="1.2" rx="1.5"/>
<rect x="1313.2" y="785.0" width="87.2" height="78.8" fill="#d2d0d2" stroke="#808080" stroke-width="2.8" rx="5.5"/>
<text x="1360.4" y="838.8" font-size="30.5" text-anchor="middle" textLength="57.5" lengthAdjust="spacingAndGlyphs">sPA</text>
<rect x="1406.4" y="785.0" width="209.2" height="78.8" fill="#e6e6e6" stroke="#808080" stroke-width="2.8" rx="5.5"/>
<text x="1513.1" y="838.8" font-size="30.5" text-anchor="middle" textLength="190" lengthAdjust="spacingAndGlyphs">3’ homol. arm</text>
<text x="713.8" y="773.8" font-size="27" text-anchor="middle">230 bp</text>
<text x="882.9" y="773.8" font-size="27" text-anchor="middle">282 - 498 bp</text>
<text x="1155.0" y="773.8" font-size="27" text-anchor="middle">417 bp</text>
<text x="1355.4" y="773.8" font-size="27" text-anchor="middle">49 bp</text>
<text x="541.0" y="897.0" font-size="27" text-anchor="middle">400 bp</text>
<text x="1542.5" y="893.5" font-size="27" text-anchor="middle">400 bp</text>
<text x="1018.4" y="911.3" font-size="27.1" font-weight="bold" text-anchor="middle">1053 - 1269 bp*</text>
<text x="264.6" y="789.3" font-size="35" font-weight="bold" text-anchor="middle">dsDNA donor-</text>
<text x="263.5" y="831.9" font-size="35" font-weight="bold" text-anchor="middle">template</text>
<text x="263.9" y="873.7" font-size="35" font-weight="bold" text-anchor="middle">(HDRT)</text>
<text x="1666.3" y="787.9" font-size="31" font-weight="bold">Cytokines tested:</text>
<text x="1666.3" y="825.8" font-size="31">CXCl 10 (294 bp)</text>
<text x="1666.3" y="863.8" font-size="31">CXCL11 (282 bp)</text>
<text x="1666.3" y="901.7" font-size="31">IFNG (498 bp)</text>
<text x="0.0" y="988.8" font-size="44" font-weight="bold">c</text>
<line x1="150.6" y1="1013.2" x2="150.6" y2="1454.3" stroke="#000" stroke-width="3.8"/>
<line x1="135.0" y1="1452.5" x2="150.6" y2="1452.5" stroke="#000" stroke-width="3.6"/>
<text x="130.0" y="1462.3" font-size="28" text-anchor="end">0</text>
<line x1="135.0" y1="1365.0" x2="150.6" y2="1365.0" stroke="#000" stroke-width="3.6"/>
<text x="130.0" y="1374.8" font-size="28" text-anchor="end">20</text>
<line x1="135.0" y1="1277.5" x2="150.6" y2="1277.5" stroke="#000" stroke-width="3.6"/>
<text x="130.0" y="1287.3" font-size="28" text-anchor="end">40</text>
<line x1="135.0" y1="1190.0" x2="150.6" y2="1190.0" stroke="#000" stroke-width="3.6"/>
<text x="130.0" y="1199.8" font-size="28" text-anchor="end">60</text>
<line x1="135.0" y1="1102.5" x2="150.6" y2="1102.5" stroke="#000" stroke-width="3.6"/>
<text x="130.0" y="1112.3" font-size="28" text-anchor="end">80</text>
<line x1="135.0" y1="1015.0" x2="150.6" y2="1015.0" stroke="#000" stroke-width="3.6"/>
<text x="130.0" y="1024.8" font-size="28" text-anchor="end">100</text>
<text x="28.5" y="1240.6" font-size="35.8" font-weight="bold" text-anchor="middle" transform="rotate(-90.00 28.5 1240.6)">PAM creating variant</text>
<text x="70.0" y="1252.6" font-size="35" font-weight="bold" text-anchor="middle" transform="rotate(-90.00 70.0 1252.6)">allele frequency [%]</text>
<text x="321.3" y="1011.3" font-size="30.5">Sanger</text>
<text x="321.3" y="1047.5" font-size="30.5">Sequencing</text>
<rect x="733.6" y="1000.4" width="33.3" height="15.0" fill="#c8c8c8" stroke="#222" stroke-width="2" rx="4"/>
<rect x="733.6" y="1036.2" width="33.3" height="15.5" fill="#2b2b2b" stroke="#111" stroke-width="2" rx="4"/>
<text x="778.0" y="1019.0" font-size="27">SK-N-AS</text>
<text x="778.0" y="1054.2" font-size="27">SK-N-BE2c</text>
<rect x="168.5" y="1015.8" width="31.7" height="436.7" fill="#d4d4d4" stroke="#3a3a3a" stroke-width="1.6"/>
<rect x="205.1" y="1015.8" width="31.1" height="436.7" fill="#333333" stroke="#222" stroke-width="1.6"/>
<rect x="259.4" y="1303.7" width="31.7" height="148.8" fill="#d4d4d4" stroke="#3a3a3a" stroke-width="1.6"/>
<rect x="297.8" y="1444.7" width="32.5" height="11.5" fill="#c6c6c6" rx="2"/>
<rect x="340.1" y="1430.1" width="31.7" height="22.4" fill="#d4d4d4" stroke="#3a3a3a" stroke-width="1.6"/>
<rect x="378.5" y="1444.7" width="32.5" height="11.5" fill="#c6c6c6" rx="2"/>
<rect x="420.3" y="1160.6" width="31.7" height="291.9" fill="#d4d4d4" stroke="#3a3a3a" stroke-width="1.6"/>
<rect x="458.7" y="1444.7" width="32.5" height="11.5" fill="#c6c6c6" rx="2"/>
<rect x="500.9" y="1247.7" width="31.7" height="204.8" fill="#d4d4d4" stroke="#3a3a3a" stroke-width="1.6"/>
<rect x="539.3" y="1444.7" width="32.5" height="11.5" fill="#c6c6c6" rx="2"/>
<rect x="591.5" y="1015.8" width="31.7" height="436.7" fill="#333333" stroke="#222" stroke-width="1.6"/>
<rect x="629.9" y="1444.7" width="32.5" height="11.5" fill="#3c3c3c" rx="2"/>
<rect x="671.9" y="1211.8" width="31.7" height="240.7" fill="#333333" stroke="#222" stroke-width="1.6"/>
<rect x="710.3" y="1444.7" width="32.5" height="11.5" fill="#3c3c3c" rx="2"/>
<rect x="752.6" y="1240.2" width="31.7" height="212.3" fill="#333333" stroke="#222" stroke-width="1.6"/>
<rect x="791.0" y="1444.7" width="32.5" height="11.5" fill="#3c3c3c" rx="2"/>
<rect x="833.1" y="1297.1" width="31.7" height="155.4" fill="#333333" stroke="#222" stroke-width="1.6"/>
<rect x="871.5" y="1442.7" width="32.5" height="13.5" fill="#3c3c3c" rx="2"/>
<rect x="951.5" y="1444.7" width="32.5" height="11.5" fill="#3c3c3c" rx="2"/>
<line x1="148.7" y1="1452.5" x2="1008.7" y2="1452.5" stroke="#000" stroke-width="3.8"/>
<rect x="183.9" y="1454.4" width="38.6" height="14.0" fill="#fff"/>
<line x1="185.5" y1="1454.4" x2="185.5" y2="1469.0" stroke="#000" stroke-width="3.2"/>
<line x1="220.9" y1="1454.4" x2="220.9" y2="1469.0" stroke="#000" stroke-width="3.2"/>
<line x1="185.5" y1="1468.4" x2="220.9" y2="1468.4" stroke="#000" stroke-width="1.8"/>
<line x1="203.2" y1="1468.4" x2="203.2" y2="1477.9" stroke="#000" stroke-width="2.2"/>
<rect x="273.1" y="1454.4" width="38.6" height="14.0" fill="#fff"/>
<line x1="274.7" y1="1454.4" x2="274.7" y2="1469.0" stroke="#000" stroke-width="3.2"/>
<line x1="310.1" y1="1454.4" x2="310.1" y2="1469.0" stroke="#000" stroke-width="3.2"/>
<line x1="274.7" y1="1468.4" x2="310.1" y2="1468.4" stroke="#000" stroke-width="1.8"/>
<line x1="292.4" y1="1468.4" x2="292.4" y2="1477.9" stroke="#000" stroke-width="2.2"/>
<rect x="353.5" y="1454.4" width="38.6" height="14.0" fill="#fff"/>
<line x1="355.1" y1="1454.4" x2="355.1" y2="1469.0" stroke="#000" stroke-width="3.2"/>
<line x1="390.5" y1="1454.4" x2="390.5" y2="1469.0" stroke="#000" stroke-width="3.2"/>
<line x1="355.1" y1="1468.4" x2="390.5" y2="1468.4" stroke="#000" stroke-width="1.8"/>
<line x1="372.8" y1="1468.4" x2="372.8" y2="1477.9" stroke="#000" stroke-width="2.2"/>
<rect x="433.8" y="1454.4" width="38.6" height="14.0" fill="#fff"/>
<line x1="435.4" y1="1454.4" x2="435.4" y2="1469.0" stroke="#000" stroke-width="3.2"/>
<line x1="470.8" y1="1454.4" x2="470.8" y2="1469.0" stroke="#000" stroke-width="3.2"/>
<line x1="435.4" y1="1468.4" x2="470.8" y2="1468.4" stroke="#000" stroke-width="1.8"/>
<line x1="453.1" y1="1468.4" x2="453.1" y2="1477.9" stroke="#000" stroke-width="2.2"/>
<rect x="514.3" y="1454.4" width="38.6" height="14.0" fill="#fff"/>
<line x1="515.9" y1="1454.4" x2="515.9" y2="1469.0" stroke="#000" stroke-width="3.2"/>
<line x1="551.3" y1="1454.4" x2="551.3" y2="1469.0" stroke="#000" stroke-width="3.2"/>
<line x1="515.9" y1="1468.4" x2="551.3" y2="1468.4" stroke="#000" stroke-width="1.8"/>
<line x1="533.6" y1="1468.4" x2="533.6" y2="1477.9" stroke="#000" stroke-width="2.2"/>
<rect x="604.6" y="1454.4" width="38.6" height="14.0" fill="#fff"/>
<line x1="606.2" y1="1454.4" x2="606.2" y2="1469.0" stroke="#000" stroke-width="3.2"/>
<line x1="641.6" y1="1454.4" x2="641.6" y2="1469.0" stroke="#000" stroke-width="3.2"/>
<line x1="606.2" y1="1468.4" x2="641.6" y2="1468.4" stroke="#000" stroke-width="1.8"/>
<line x1="623.9" y1="1468.4" x2="623.9" y2="1477.9" stroke="#000" stroke-width="2.2"/>
<rect x="684.8" y="1454.4" width="38.6" height="14.0" fill="#fff"/>
<line x1="686.4" y1="1454.4" x2="686.4" y2="1469.0" stroke="#000" stroke-width="3.2"/>
<line x1="721.8" y1="1454.4" x2="721.8" y2="1469.0" stroke="#000" stroke-width="3.2"/>
<line x1="686.4" y1="1468.4" x2="721.8" y2="1468.4" stroke="#000" stroke-width="1.8"/>
<line x1="704.1" y1="1468.4" x2="704.1" y2="1477.9" stroke="#000" stroke-width="2.2"/>
<rect x="765.0" y="1454.4" width="38.6" height="14.0" fill="#fff"/>
<line x1="766.6" y1="1454.4" x2="766.6" y2="1469.0" stroke="#000" stroke-width="3.2"/>
<line x1="802.0" y1="1454.4" x2="802.0" y2="1469.0" stroke="#000" stroke-width="3.2"/>
<line x1="766.6" y1="1468.4" x2="802.0" y2="1468.4" stroke="#000" stroke-width="1.8"/>
<line x1="784.3" y1="1468.4" x2="784.3" y2="1477.9" stroke="#000" stroke-width="2.2"/>
<rect x="845.0" y="1454.4" width="38.6" height="14.0" fill="#fff"/>
<line x1="846.6" y1="1454.4" x2="846.6" y2="1469.0" stroke="#000" stroke-width="3.2"/>
<line x1="882.0" y1="1454.4" x2="882.0" y2="1469.0" stroke="#000" stroke-width="3.2"/>
<line x1="846.6" y1="1468.4" x2="882.0" y2="1468.4" stroke="#000" stroke-width="1.8"/>
<line x1="864.3" y1="1468.4" x2="864.3" y2="1477.9" stroke="#000" stroke-width="2.2"/>
<rect x="924.5" y="1454.4" width="38.6" height="14.0" fill="#fff"/>
<line x1="926.1" y1="1454.4" x2="926.1" y2="1469.0" stroke="#000" stroke-width="3.2"/>
<line x1="961.5" y1="1454.4" x2="961.5" y2="1469.0" stroke="#000" stroke-width="3.2"/>
<line x1="926.1" y1="1468.4" x2="961.5" y2="1468.4" stroke="#000" stroke-width="1.8"/>
<line x1="943.8" y1="1468.4" x2="943.8" y2="1477.9" stroke="#000" stroke-width="2.2"/>
<line x1="275.2" y1="1284.1" x2="275.2" y2="1319.9" stroke="#b00000" stroke-width="2.0"/>
<line x1="266.9" y1="1284.1" x2="283.4" y2="1284.1" stroke="#b00000" stroke-width="2.0"/>
<line x1="266.9" y1="1319.9" x2="283.4" y2="1319.9" stroke="#b00000" stroke-width="2.0"/>
<line x1="355.6" y1="1405.2" x2="355.6" y2="1452.5" stroke="#b00000" stroke-width="2.0"/>
<line x1="347.4" y1="1405.2" x2="363.9" y2="1405.2" stroke="#b00000" stroke-width="2.0"/>
<line x1="347.4" y1="1452.5" x2="363.9" y2="1452.5" stroke="#b00000" stroke-width="2.0"/>
<line x1="436.5" y1="1144.5" x2="436.5" y2="1172.9" stroke="#b00000" stroke-width="2.0"/>
<line x1="428.2" y1="1144.5" x2="444.8" y2="1144.5" stroke="#b00000" stroke-width="2.0"/>
<line x1="428.2" y1="1172.9" x2="444.8" y2="1172.9" stroke="#b00000" stroke-width="2.0"/>
<line x1="517.2" y1="1234.2" x2="517.2" y2="1259.1" stroke="#b00000" stroke-width="2.0"/>
<line x1="509.0" y1="1234.2" x2="525.5" y2="1234.2" stroke="#b00000" stroke-width="2.0"/>
<line x1="509.0" y1="1259.1" x2="525.5" y2="1259.1" stroke="#b00000" stroke-width="2.0"/>
<line x1="688.5" y1="1195.7" x2="688.5" y2="1225.9" stroke="#b00000" stroke-width="2.0"/>
<line x1="680.2" y1="1195.7" x2="696.8" y2="1195.7" stroke="#b00000" stroke-width="2.0"/>
<line x1="680.2" y1="1225.9" x2="696.8" y2="1225.9" stroke="#b00000" stroke-width="2.0"/>
<line x1="768.8" y1="1215.8" x2="768.8" y2="1263.1" stroke="#b00000" stroke-width="2.0"/>
<line x1="760.5" y1="1215.8" x2="777.0" y2="1215.8" stroke="#b00000" stroke-width="2.0"/>
<line x1="760.5" y1="1263.1" x2="777.0" y2="1263.1" stroke="#b00000" stroke-width="2.0"/>
<line x1="849.8" y1="1282.3" x2="849.8" y2="1309.9" stroke="#b00000" stroke-width="2.0"/>
<line x1="841.5" y1="1282.3" x2="858.0" y2="1282.3" stroke="#b00000" stroke-width="2.0"/>
<line x1="841.5" y1="1309.9" x2="858.0" y2="1309.9" stroke="#b00000" stroke-width="2.0"/>
<circle cx="174.6" cy="1015.0" r="7.70" fill="#cc0000" stroke="#333" stroke-width="2.1"/>
<circle cx="194.0" cy="1015.0" r="7.70" fill="#cc0000" stroke="#333" stroke-width="2.1"/>
<circle cx="212.0" cy="1015.0" r="7.70" fill="#cc0000" stroke="#333" stroke-width="2.1"/>
<circle cx="230.9" cy="1015.0" r="7.70" fill="#cc0000" stroke="#333" stroke-width="2.1"/>
<circle cx="275.2" cy="1269.2" r="7.70" fill="#cc0000" stroke="#333" stroke-width="2.1"/>
<circle cx="275.2" cy="1308.1" r="7.70" fill="#cc0000" stroke="#333" stroke-width="2.1"/>
<circle cx="275.2" cy="1330.0" r="7.70" fill="#cc0000" stroke="#333" stroke-width="2.1"/>
<circle cx="311.0" cy="1452.5" r="7.70" fill="#cc0000" stroke="#333" stroke-width="2.1"/>
<circle cx="346.5" cy="1452.5" r="7.70" fill="#cc0000" stroke="#333" stroke-width="2.1"/>
<circle cx="365.9" cy="1452.5" r="7.70" fill="#cc0000" stroke="#333" stroke-width="2.1"/>
<circle cx="355.6" cy="1382.5" r="7.70" fill="#cc0000" stroke="#333" stroke-width="2.1"/>
<circle cx="391.6" cy="1452.5" r="7.70" fill="#cc0000" stroke="#333" stroke-width="2.1"/>
<circle cx="426.8" cy="1142.3" r="7.70" fill="#cc0000" stroke="#333" stroke-width="2.1"/>
<circle cx="446.2" cy="1129.2" r="7.70" fill="#cc0000" stroke="#333" stroke-width="2.1"/>
<circle cx="436.5" cy="1168.6" r="7.70" fill="#cc0000" stroke="#333" stroke-width="2.1"/>
<circle cx="436.5" cy="1194.4" r="7.70" fill="#cc0000" stroke="#333" stroke-width="2.1"/>
<circle cx="472.6" cy="1452.5" r="7.70" fill="#cc0000" stroke="#333" stroke-width="2.1"/>
<circle cx="507.8" cy="1225.0" r="7.70" fill="#cc0000" stroke="#333" stroke-width="2.1"/>
<circle cx="526.9" cy="1225.0" r="7.70" fill="#cc0000" stroke="#333" stroke-width="2.1"/>
<circle cx="507.8" cy="1268.8" r="7.70" fill="#cc0000" stroke="#333" stroke-width="2.1"/>
<circle cx="526.9" cy="1268.8" r="7.70" fill="#cc0000" stroke="#333" stroke-width="2.1"/>
<circle cx="553.3" cy="1452.5" r="7.70" fill="#cc0000" stroke="#333" stroke-width="2.1"/>
<circle cx="598.4" cy="1015.0" r="7.70" fill="#cc0000" stroke="#333" stroke-width="2.1"/>
<circle cx="608.0" cy="1015.0" r="7.70" fill="#cc0000" stroke="#333" stroke-width="2.1"/>
<circle cx="617.8" cy="1015.0" r="7.70" fill="#cc0000" stroke="#333" stroke-width="2.1"/>
<circle cx="644.5" cy="1452.5" r="7.70" fill="#cc0000" stroke="#333" stroke-width="2.1"/>
<circle cx="678.8" cy="1190.0" r="7.70" fill="#cc0000" stroke="#333" stroke-width="2.1"/>
<circle cx="688.5" cy="1199.2" r="7.70" fill="#cc0000" stroke="#333" stroke-width="2.1"/>
<circle cx="698.2" cy="1199.2" r="7.70" fill="#cc0000" stroke="#333" stroke-width="2.1"/>
<circle cx="688.5" cy="1255.6" r="7.70" fill="#cc0000" stroke="#333" stroke-width="2.1"/>
<circle cx="725.0" cy="1452.5" r="7.70" fill="#cc0000" stroke="#333" stroke-width="2.1"/>
<circle cx="768.8" cy="1172.5" r="7.70" fill="#cc0000" stroke="#333" stroke-width="2.1"/>
<circle cx="768.8" cy="1238.1" r="7.70" fill="#cc0000" stroke="#333" stroke-width="2.1"/>
<circle cx="759.7" cy="1273.1" r="7.70" fill="#cc0000" stroke="#333" stroke-width="2.1"/>
<circle cx="778.5" cy="1273.1" r="7.70" fill="#cc0000" stroke="#333" stroke-width="2.1"/>
<circle cx="805.6" cy="1452.5" r="7.70" fill="#cc0000" stroke="#333" stroke-width="2.1"/>
<circle cx="849.8" cy="1255.6" r="7.70" fill="#cc0000" stroke="#333" stroke-width="2.1"/>
<circle cx="840.4" cy="1298.9" r="7.70" fill="#cc0000" stroke="#333" stroke-width="2.1"/>
<circle cx="840.4" cy="1316.4" r="7.70" fill="#cc0000" stroke="#333" stroke-width="2.1"/>
<circle cx="859.8" cy="1312.1" r="7.70" fill="#cc0000" stroke="#333" stroke-width="2.1"/>
<circle cx="886.2" cy="1452.5" r="7.70" fill="#cc0000" stroke="#333" stroke-width="2.1"/>
<circle cx="921.1" cy="1452.5" r="7.70" fill="#cc0000" stroke="#333" stroke-width="2.1"/>
<circle cx="940.0" cy="1452.5" r="7.70" fill="#cc0000" stroke="#333" stroke-width="2.1"/>
<circle cx="966.7" cy="1452.5" r="7.70" fill="#cc0000" stroke="#333" stroke-width="2.1"/>
<text x="135.3" y="1520.3" font-size="30.5" font-style="italic" letter-spacing="1">AAVS1</text>
<text x="340.3" y="1498.0" font-size="31" font-style="italic" text-anchor="end" transform="rotate(-38.00 340.3 1498.0)">AP1M1</text>
<text x="409.0" y="1498.0" font-size="31" text-anchor="end" transform="rotate(-38.00 409.0 1498.0)">SNX18</text>
<text x="486.2" y="1498.0" font-size="31" font-style="italic" text-anchor="end" transform="rotate(-38.00 486.2 1498.0)">RPLPO</text>
<text x="569.8" y="1498.0" font-size="31" text-anchor="end" transform="rotate(-38.00 569.8 1498.0)">CHST11</text>
<text x="684.4" y="1495.0" font-size="31" font-style="italic" text-anchor="end" transform="rotate(-38.00 684.4 1495.0)">IGSF9B</text>
<text x="742.8" y="1498.0" font-size="31" font-style="italic" text-anchor="end" transform="rotate(-38.00 742.8 1498.0)">CHD1</text>
<text x="821.5" y="1501.0" font-size="31" text-anchor="end" transform="rotate(-38.00 821.5 1501.0)">RBM12</text>
<text x="896.0" y="1500.0" font-size="31" text-anchor="end" transform="rotate(-38.00 896.0 1500.0)">SCAF11</text>
<text x="982.0" y="1498.0" font-size="31" text-anchor="end" transform="rotate(-38.00 982.0 1498.0)">SH3BP1</text>
<line x1="245.3" y1="1485.5" x2="245.3" y2="1572.0" stroke="#444" stroke-width="1" stroke-dasharray="2,1.2"/>
<line x1="577.0" y1="1485.5" x2="577.0" y2="1572.0" stroke="#444" stroke-width="1" stroke-dasharray="2,1.2"/>
<text x="1016.5" y="988.5" font-size="44" font-weight="bold">d</text>
<line x1="1128.0" y1="1007.2" x2="1128.0" y2="1453.8" stroke="#000" stroke-width="3.8"/>
<line x1="1112.2" y1="1452.0" x2="1128.0" y2="1452.0" stroke="#000" stroke-width="3.6"/>
<line x1="1112.2" y1="1429.8" x2="1128.0" y2="1429.8" stroke="#000" stroke-width="3.6"/>
<line x1="1112.2" y1="1363.4" x2="1128.0" y2="1363.4" stroke="#000" stroke-width="3.6"/>
<line x1="1112.2" y1="1274.8" x2="1128.0" y2="1274.8" stroke="#000" stroke-width="3.6"/>
<line x1="1112.2" y1="1186.2" x2="1128.0" y2="1186.2" stroke="#000" stroke-width="3.6"/>
<line x1="1112.2" y1="1097.6" x2="1128.0" y2="1097.6" stroke="#000" stroke-width="3.6"/>
<line x1="1112.2" y1="1009.0" x2="1128.0" y2="1009.0" stroke="#000" stroke-width="3.6"/>
<text x="1108.0" y="1373.2" font-size="28" text-anchor="end">20</text>
<text x="1108.0" y="1284.6" font-size="28" text-anchor="end">40</text>
<text x="1108.0" y="1196.0" font-size="28" text-anchor="end">60</text>
<text x="1108.0" y="1107.4" font-size="28" text-anchor="end">80</text>
<text x="1108.0" y="1018.8" font-size="28" text-anchor="end">100</text>
<text x="1112.5" y="1440.0" font-size="28" text-anchor="end">5</text>
<text x="1111.5" y="1461.3" font-size="28" text-anchor="end">0</text>
<text x="1056.0" y="1233.0" font-size="35.2" font-weight="bold" text-anchor="middle" transform="rotate(-90.00 1056.0 1233.0)">% of Q8+ cells at d28</text>
<text x="1311.0" y="1022.6" font-size="31.3">CRISPR knock-in</text>
<rect x="1752.8" y="1001.2" width="31.7" height="15.4" fill="#c8c8c8" stroke="#222" stroke-width="2" rx="4"/>
<rect x="1753.5" y="1037.8" width="31.0" height="15.2" fill="#2b2b2b" stroke="#111" stroke-width="2" rx="4"/>
<text x="1803.0" y="1016.6" font-size="27">SK-N-AS</text>
<text x="1803.0" y="1054.4" font-size="27">SK-N-BE2c</text>
<circle cx="1828.6" cy="1127.4" r="7.80" fill="#e0b000" stroke="#222" stroke-width="1.8"/>
<text x="1847.0" y="1136.4" font-size="26.5">CXCL10</text>
<circle cx="1828.6" cy="1168.2" r="7.80" fill="#bde300" stroke="#222" stroke-width="1.8"/>
<text x="1847.0" y="1177.2" font-size="26.5">CXCL11</text>
<circle cx="1828.6" cy="1208.7" r="7.80" fill="#bfe1f3" stroke="#222" stroke-width="1.8"/>
<text x="1851.5" y="1217.7" font-size="26.5">IFNG</text>
<line x1="1136.0" y1="1429.8" x2="1995.0" y2="1429.8" stroke="#111" stroke-width="3.2" stroke-dasharray="0.1,11.6" stroke-linecap="round"/>
<rect x="1147.7" y="1281.8" width="31.9" height="170.2" fill="#d4d4d4" stroke="#3a3a3a" stroke-width="1.6"/>
<rect x="1184.5" y="1291.5" width="31.7" height="160.5" fill="#333333" stroke="#1a1a1a" stroke-width="1.6"/>
<rect x="1239.8" y="1321.2" width="31.9" height="130.8" fill="#d4d4d4" stroke="#3a3a3a" stroke-width="1.6"/>
<rect x="1276.6" y="1433.8" width="31.7" height="18.2" fill="#333333" stroke="#1a1a1a" stroke-width="1.6"/>
<rect x="1358.9" y="1433.8" width="31.7" height="18.2" fill="#333333" stroke="#1a1a1a" stroke-width="1.6"/>
<rect x="1403.5" y="1305.7" width="31.9" height="146.3" fill="#d4d4d4" stroke="#3a3a3a" stroke-width="1.6"/>
<rect x="1440.3" y="1418.7" width="31.7" height="33.3" fill="#333333" stroke="#1a1a1a" stroke-width="1.6"/>
<rect x="1576.9" y="1215.8" width="31.9" height="236.2" fill="#333333" stroke="#1a1a1a" stroke-width="1.6"/>
<rect x="1613.7" y="1359.8" width="31.7" height="92.2" fill="#d4d4d4" stroke="#3a3a3a" stroke-width="1.6"/>
<rect x="1658.4" y="1338.9" width="31.9" height="113.1" fill="#333333" stroke="#1a1a1a" stroke-width="1.6"/>
<rect x="1695.2" y="1442.6" width="31.7" height="9.4" fill="#d4d4d4" stroke="#3a3a3a" stroke-width="1.6"/>
<rect x="1741.4" y="1326.5" width="31.9" height="125.5" fill="#333333" stroke="#1a1a1a" stroke-width="1.6"/>
<rect x="1778.2" y="1438.6" width="31.7" height="13.4" fill="#d4d4d4" stroke="#3a3a3a" stroke-width="1.6"/>
<rect x="1822.9" y="1436.0" width="31.9" height="16.0" fill="#333333" stroke="#1a1a1a" stroke-width="1.6"/>
<rect x="1859.7" y="1436.0" width="31.7" height="16.0" fill="#d4d4d4" stroke="#3a3a3a" stroke-width="1.6"/>
<rect x="1904.4" y="1416.0" width="31.9" height="36.0" fill="#333333" stroke="#1a1a1a" stroke-width="1.6"/>
<rect x="1941.2" y="1433.3" width="31.7" height="18.7" fill="#d4d4d4" stroke="#3a3a3a" stroke-width="1.6"/>
<line x1="1126.1" y1="1452.0" x2="1997.0" y2="1452.0" stroke="#000" stroke-width="3.8"/>
<rect x="1162.2" y="1453.9" width="38.6" height="14.0" fill="#fff"/>
<line x1="1163.8" y1="1453.9" x2="1163.8" y2="1468.5" stroke="#000" stroke-width="3.2"/>
<line x1="1199.2" y1="1453.9" x2="1199.2" y2="1468.5" stroke="#000" stroke-width="3.2"/>
<line x1="1163.8" y1="1467.9" x2="1199.2" y2="1467.9" stroke="#000" stroke-width="1.8"/>
<line x1="1181.5" y1="1467.9" x2="1181.5" y2="1477.4" stroke="#000" stroke-width="2.2"/>
<rect x="1253.4" y="1453.9" width="38.6" height="14.0" fill="#fff"/>
<line x1="1255.0" y1="1453.9" x2="1255.0" y2="1468.5" stroke="#000" stroke-width="3.2"/>
<line x1="1290.4" y1="1453.9" x2="1290.4" y2="1468.5" stroke="#000" stroke-width="3.2"/>
<line x1="1255.0" y1="1467.9" x2="1290.4" y2="1467.9" stroke="#000" stroke-width="1.8"/>
<line x1="1272.7" y1="1467.9" x2="1272.7" y2="1477.4" stroke="#000" stroke-width="2.2"/>
<rect x="1334.8" y="1453.9" width="38.6" height="14.0" fill="#fff"/>
<line x1="1336.4" y1="1453.9" x2="1336.4" y2="1468.5" stroke="#000" stroke-width="3.2"/>
<line x1="1371.8" y1="1453.9" x2="1371.8" y2="1468.5" stroke="#000" stroke-width="3.2"/>
<line x1="1336.4" y1="1467.9" x2="1371.8" y2="1467.9" stroke="#000" stroke-width="1.8"/>
<line x1="1354.1" y1="1467.9" x2="1354.1" y2="1477.4" stroke="#000" stroke-width="2.2"/>
<rect x="1415.8" y="1453.9" width="38.6" height="14.0" fill="#fff"/>
<line x1="1417.4" y1="1453.9" x2="1417.4" y2="1468.5" stroke="#000" stroke-width="3.2"/>
<line x1="1452.8" y1="1453.9" x2="1452.8" y2="1468.5" stroke="#000" stroke-width="3.2"/>
<line x1="1417.4" y1="1467.9" x2="1452.8" y2="1467.9" stroke="#000" stroke-width="1.8"/>
<line x1="1435.1" y1="1467.9" x2="1435.1" y2="1477.4" stroke="#000" stroke-width="2.2"/>
<rect x="1497.6" y="1453.9" width="38.6" height="14.0" fill="#fff"/>
<line x1="1499.2" y1="1453.9" x2="1499.2" y2="1468.5" stroke="#000" stroke-width="3.2"/>
<line x1="1534.6" y1="1453.9" x2="1534.6" y2="1468.5" stroke="#000" stroke-width="3.2"/>
<line x1="1499.2" y1="1467.9" x2="1534.6" y2="1467.9" stroke="#000" stroke-width="1.8"/>
<line x1="1516.9" y1="1467.9" x2="1516.9" y2="1477.4" stroke="#000" stroke-width="2.2"/>
<rect x="1588.9" y="1453.9" width="38.6" height="14.0" fill="#fff"/>
<line x1="1590.5" y1="1453.9" x2="1590.5" y2="1468.5" stroke="#000" stroke-width="3.2"/>
<line x1="1625.9" y1="1453.9" x2="1625.9" y2="1468.5" stroke="#000" stroke-width="3.2"/>
<line x1="1590.5" y1="1467.9" x2="1625.9" y2="1467.9" stroke="#000" stroke-width="1.8"/>
<line x1="1608.2" y1="1467.9" x2="1608.2" y2="1477.4" stroke="#000" stroke-width="2.2"/>
<rect x="1670.1" y="1453.9" width="38.6" height="14.0" fill="#fff"/>
<line x1="1671.7" y1="1453.9" x2="1671.7" y2="1468.5" stroke="#000" stroke-width="3.2"/>
<line x1="1707.1" y1="1453.9" x2="1707.1" y2="1468.5" stroke="#000" stroke-width="3.2"/>
<line x1="1671.7" y1="1467.9" x2="1707.1" y2="1467.9" stroke="#000" stroke-width="1.8"/>
<line x1="1689.4" y1="1467.9" x2="1689.4" y2="1477.4" stroke="#000" stroke-width="2.2"/>
<rect x="1751.5" y="1453.9" width="38.6" height="14.0" fill="#fff"/>
<line x1="1753.1" y1="1453.9" x2="1753.1" y2="1468.5" stroke="#000" stroke-width="3.2"/>
<line x1="1788.5" y1="1453.9" x2="1788.5" y2="1468.5" stroke="#000" stroke-width="3.2"/>
<line x1="1753.1" y1="1467.9" x2="1788.5" y2="1467.9" stroke="#000" stroke-width="1.8"/>
<line x1="1770.8" y1="1467.9" x2="1770.8" y2="1477.4" stroke="#000" stroke-width="2.2"/>
<rect x="1832.7" y="1453.9" width="38.6" height="14.0" fill="#fff"/>
<line x1="1834.3" y1="1453.9" x2="1834.3" y2="1468.5" stroke="#000" stroke-width="3.2"/>
<line x1="1869.7" y1="1453.9" x2="1869.7" y2="1468.5" stroke="#000" stroke-width="3.2"/>
<line x1="1834.3" y1="1467.9" x2="1869.7" y2="1467.9" stroke="#000" stroke-width="1.8"/>
<line x1="1852.0" y1="1467.9" x2="1852.0" y2="1477.4" stroke="#000" stroke-width="2.2"/>
<rect x="1913.7" y="1453.9" width="38.6" height="14.0" fill="#fff"/>
<line x1="1915.3" y1="1453.9" x2="1915.3" y2="1468.5" stroke="#000" stroke-width="3.2"/>
<line x1="1950.7" y1="1453.9" x2="1950.7" y2="1468.5" stroke="#000" stroke-width="3.2"/>
<line x1="1915.3" y1="1467.9" x2="1950.7" y2="1467.9" stroke="#000" stroke-width="1.8"/>
<line x1="1933.0" y1="1467.9" x2="1933.0" y2="1477.4" stroke="#000" stroke-width="2.2"/>
<circle cx="1163.5" cy="1195.0" r="7.90" fill="#e0b000" stroke="#222" stroke-width="2.0"/>
<circle cx="1153.8" cy="1222.2" r="7.90" fill="#e0b000" stroke="#222" stroke-width="2.0"/>
<circle cx="1173.2" cy="1227.7" r="7.90" fill="#bde300" stroke="#222" stroke-width="2.0"/>
<circle cx="1163.5" cy="1310.8" r="7.90" fill="#e0b000" stroke="#222" stroke-width="2.0"/>
<circle cx="1163.5" cy="1346.9" r="7.90" fill="#bde300" stroke="#222" stroke-width="2.0"/>
<circle cx="1163.5" cy="1382.9" r="7.90" fill="#bfe1f3" stroke="#222" stroke-width="2.0"/>
<circle cx="1200.1" cy="1084.1" r="7.90" fill="#e0b000" stroke="#222" stroke-width="2.0"/>
<circle cx="1190.7" cy="1231.0" r="7.90" fill="#e0b000" stroke="#222" stroke-width="2.0"/>
<circle cx="1210.1" cy="1222.2" r="7.90" fill="#e0b000" stroke="#222" stroke-width="2.0"/>
<circle cx="1190.7" cy="1288.7" r="7.90" fill="#e0b000" stroke="#222" stroke-width="2.0"/>
<circle cx="1210.1" cy="1289.2" r="7.90" fill="#bde300" stroke="#222" stroke-width="2.0"/>
<circle cx="1200.1" cy="1344.6" r="7.90" fill="#bde300" stroke="#222" stroke-width="2.0"/>
<circle cx="1200.1" cy="1359.9" r="7.90" fill="#e0b000" stroke="#222" stroke-width="2.0"/>
<circle cx="1190.7" cy="1403.4" r="7.90" fill="#bfe1f3" stroke="#222" stroke-width="2.0"/>
<circle cx="1210.1" cy="1400.1" r="7.90" fill="#e0b000" stroke="#222" stroke-width="2.0"/>
<circle cx="1255.5" cy="1302.5" r="7.90" fill="#e0b000" stroke="#222" stroke-width="2.0"/>
<circle cx="1255.5" cy="1337.7" r="7.90" fill="#e0b000" stroke="#222" stroke-width="2.0"/>
<circle cx="1282.7" cy="1440.0" r="7.90" fill="#e0b000" stroke="#222" stroke-width="2.0"/>
<circle cx="1302.1" cy="1430.3" r="7.90" fill="#e0b000" stroke="#222" stroke-width="2.0"/>
<circle cx="1327.0" cy="1448.3" r="7.90" fill="#e0b000" stroke="#222" stroke-width="2.0"/>
<circle cx="1346.5" cy="1448.3" r="7.90" fill="#e0b000" stroke="#222" stroke-width="2.0"/>
<circle cx="1373.6" cy="1417.8" r="7.90" fill="#e0b000" stroke="#222" stroke-width="2.0"/>
<circle cx="1373.6" cy="1448.3" r="7.90" fill="#e0b000" stroke="#222" stroke-width="2.0"/>
<circle cx="1409.6" cy="1270.6" r="7.90" fill="#e0b000" stroke="#222" stroke-width="2.0"/>
<circle cx="1429.0" cy="1267.9" r="7.90" fill="#bde300" stroke="#222" stroke-width="2.0"/>
<circle cx="1429.0" cy="1284.2" r="7.90" fill="#e0b000" stroke="#222" stroke-width="2.0"/>
<circle cx="1419.0" cy="1306.7" r="7.90" fill="#e0b000" stroke="#222" stroke-width="2.0"/>
<circle cx="1409.6" cy="1355.2" r="7.90" fill="#e0b000" stroke="#222" stroke-width="2.0"/>
<circle cx="1429.0" cy="1348.0" r="7.90" fill="#bfe1f3" stroke="#222" stroke-width="2.0"/>
<circle cx="1456.0" cy="1408.0" r="7.90" fill="#e0b000" stroke="#222" stroke-width="2.0"/>
<circle cx="1456.0" cy="1426.1" r="7.90" fill="#e0b000" stroke="#222" stroke-width="2.0"/>
<circle cx="1491.0" cy="1448.3" r="7.90" fill="#e0b000" stroke="#222" stroke-width="2.0"/>
<circle cx="1510.3" cy="1448.3" r="7.90" fill="#e0b000" stroke="#222" stroke-width="2.0"/>
<circle cx="1528.2" cy="1448.3" r="7.90" fill="#e0b000" stroke="#222" stroke-width="2.0"/>
<circle cx="1537.9" cy="1448.3" r="7.90" fill="#e0b000" stroke="#222" stroke-width="2.0"/>
<circle cx="1547.5" cy="1448.3" r="7.90" fill="#e0b000" stroke="#222" stroke-width="2.0"/>
<circle cx="1593.0" cy="1151.7" r="7.90" fill="#e0b000" stroke="#222" stroke-width="2.0"/>
<circle cx="1593.0" cy="1177.6" r="7.90" fill="#e0b000" stroke="#222" stroke-width="2.0"/>
<circle cx="1593.0" cy="1315.4" r="7.90" fill="#e0b000" stroke="#222" stroke-width="2.0"/>
<circle cx="1620.6" cy="1346.0" r="7.90" fill="#e0b000" stroke="#222" stroke-width="2.0"/>
<circle cx="1639.8" cy="1354.8" r="7.90" fill="#e0b000" stroke="#222" stroke-width="2.0"/>
<circle cx="1630.2" cy="1372.7" r="7.90" fill="#e0b000" stroke="#222" stroke-width="2.0"/>
<circle cx="1675.7" cy="1205.9" r="7.90" fill="#bde300" stroke="#222" stroke-width="2.0"/>
<circle cx="1675.1" cy="1315.4" r="7.90" fill="#e0b000" stroke="#222" stroke-width="2.0"/>
<circle cx="1675.1" cy="1346.5" r="7.90" fill="#e0b000" stroke="#222" stroke-width="2.0"/>
<circle cx="1665.2" cy="1363.9" r="7.90" fill="#e0b000" stroke="#222" stroke-width="2.0"/>
<circle cx="1684.5" cy="1373.2" r="7.90" fill="#e0b000" stroke="#222" stroke-width="2.0"/>
<circle cx="1674.3" cy="1428.1" r="7.90" fill="#bfe1f3" stroke="#222" stroke-width="2.0"/>
<circle cx="1684.0" cy="1437.0" r="7.90" fill="#bfe1f3" stroke="#222" stroke-width="2.0"/>
<circle cx="1664.1" cy="1445.5" r="7.90" fill="#bfe1f3" stroke="#222" stroke-width="2.0"/>
<circle cx="1701.8" cy="1443.3" r="7.90" fill="#e0b000" stroke="#222" stroke-width="2.0"/>
<circle cx="1721.1" cy="1443.3" r="7.90" fill="#e0b000" stroke="#222" stroke-width="2.0"/>
<circle cx="1756.4" cy="1284.5" r="7.90" fill="#e0b000" stroke="#222" stroke-width="2.0"/>
<circle cx="1756.4" cy="1368.5" r="7.90" fill="#e0b000" stroke="#222" stroke-width="2.0"/>
<circle cx="1783.1" cy="1443.3" r="7.90" fill="#e0b000" stroke="#222" stroke-width="2.0"/>
<circle cx="1803.0" cy="1430.1" r="7.90" fill="#e0b000" stroke="#222" stroke-width="2.0"/>
<circle cx="1828.6" cy="1435.0" r="7.90" fill="#e0b000" stroke="#222" stroke-width="2.0"/>
<circle cx="1847.9" cy="1429.5" r="7.90" fill="#e0b000" stroke="#222" stroke-width="2.0"/>
<circle cx="1865.8" cy="1435.0" r="7.90" fill="#e0b000" stroke="#222" stroke-width="2.0"/>
<circle cx="1885.1" cy="1435.0" r="7.90" fill="#e0b000" stroke="#222" stroke-width="2.0"/>
<circle cx="1920.4" cy="1399.8" r="7.90" fill="#e0b000" stroke="#222" stroke-width="2.0"/>
<circle cx="1920.4" cy="1430.9" r="7.90" fill="#e0b000" stroke="#222" stroke-width="2.0"/>
<circle cx="1948.0" cy="1435.0" r="7.90" fill="#e0b000" stroke="#222" stroke-width="2.0"/>
<circle cx="1967.2" cy="1426.2" r="7.90" fill="#e0b000" stroke="#222" stroke-width="2.0"/>
<line x1="1163.5" y1="1204.1" x2="1163.5" y2="1356.6" stroke="#b00000" stroke-width="2.0"/>
<line x1="1155.2" y1="1204.1" x2="1171.8" y2="1204.1" stroke="#b00000" stroke-width="2.0"/>
<line x1="1155.2" y1="1356.6" x2="1171.8" y2="1356.6" stroke="#b00000" stroke-width="2.0"/>
<line x1="1200.1" y1="1189.4" x2="1200.1" y2="1393.2" stroke="#b00000" stroke-width="2.0"/>
<line x1="1191.8" y1="1189.4" x2="1208.3" y2="1189.4" stroke="#b00000" stroke-width="2.0"/>
<line x1="1191.8" y1="1393.2" x2="1208.3" y2="1393.2" stroke="#b00000" stroke-width="2.0"/>
<line x1="1255.5" y1="1294.8" x2="1255.5" y2="1345.2" stroke="#b00000" stroke-width="2.0"/>
<line x1="1247.2" y1="1294.8" x2="1263.8" y2="1294.8" stroke="#b00000" stroke-width="2.0"/>
<line x1="1247.2" y1="1345.2" x2="1263.8" y2="1345.2" stroke="#b00000" stroke-width="2.0"/>
<line x1="1291.6" y1="1428.9" x2="1291.6" y2="1441.4" stroke="#b00000" stroke-width="2.0"/>
<line x1="1283.3" y1="1428.9" x2="1299.8" y2="1428.9" stroke="#b00000" stroke-width="2.0"/>
<line x1="1283.3" y1="1441.4" x2="1299.8" y2="1441.4" stroke="#b00000" stroke-width="2.0"/>
<line x1="1373.6" y1="1410.9" x2="1373.6" y2="1451.9" stroke="#b00000" stroke-width="2.0"/>
<line x1="1365.3" y1="1410.9" x2="1381.8" y2="1410.9" stroke="#b00000" stroke-width="2.0"/>
<line x1="1365.3" y1="1451.9" x2="1381.8" y2="1451.9" stroke="#b00000" stroke-width="2.0"/>
<line x1="1419.0" y1="1267.0" x2="1419.0" y2="1343.3" stroke="#b00000" stroke-width="2.0"/>
<line x1="1410.8" y1="1267.0" x2="1427.2" y2="1267.0" stroke="#b00000" stroke-width="2.0"/>
<line x1="1410.8" y1="1343.3" x2="1427.2" y2="1343.3" stroke="#b00000" stroke-width="2.0"/>
<line x1="1456.0" y1="1404.8" x2="1456.0" y2="1429.7" stroke="#b00000" stroke-width="2.0"/>
<line x1="1447.8" y1="1404.8" x2="1464.2" y2="1404.8" stroke="#b00000" stroke-width="2.0"/>
<line x1="1447.8" y1="1429.7" x2="1464.2" y2="1429.7" stroke="#b00000" stroke-width="2.0"/>
<line x1="1593.0" y1="1126.9" x2="1593.0" y2="1302.4" stroke="#b00000" stroke-width="2.0"/>
<line x1="1584.8" y1="1126.9" x2="1601.2" y2="1126.9" stroke="#b00000" stroke-width="2.0"/>
<line x1="1584.8" y1="1302.4" x2="1601.2" y2="1302.4" stroke="#b00000" stroke-width="2.0"/>
<line x1="1630.2" y1="1344.6" x2="1630.2" y2="1371.3" stroke="#b00000" stroke-width="2.0"/>
<line x1="1622.0" y1="1344.6" x2="1638.5" y2="1344.6" stroke="#b00000" stroke-width="2.0"/>
<line x1="1622.0" y1="1371.3" x2="1638.5" y2="1371.3" stroke="#b00000" stroke-width="2.0"/>
<line x1="1675.1" y1="1263.3" x2="1675.1" y2="1413.0" stroke="#b00000" stroke-width="2.0"/>
<line x1="1666.8" y1="1263.3" x2="1683.3" y2="1263.3" stroke="#b00000" stroke-width="2.0"/>
<line x1="1666.8" y1="1413.0" x2="1683.3" y2="1413.0" stroke="#b00000" stroke-width="2.0"/>
<line x1="1756.4" y1="1267.4" x2="1756.4" y2="1385.9" stroke="#b00000" stroke-width="2.0"/>
<line x1="1748.2" y1="1267.4" x2="1764.7" y2="1267.4" stroke="#b00000" stroke-width="2.0"/>
<line x1="1748.2" y1="1385.9" x2="1764.7" y2="1385.9" stroke="#b00000" stroke-width="2.0"/>
<line x1="1793.3" y1="1428.1" x2="1793.3" y2="1446.6" stroke="#b00000" stroke-width="2.0"/>
<line x1="1785.0" y1="1428.1" x2="1801.5" y2="1428.1" stroke="#b00000" stroke-width="2.0"/>
<line x1="1785.0" y1="1446.6" x2="1801.5" y2="1446.6" stroke="#b00000" stroke-width="2.0"/>
<line x1="1838.3" y1="1429.5" x2="1838.3" y2="1435.6" stroke="#b00000" stroke-width="2.0"/>
<line x1="1830.0" y1="1429.5" x2="1846.5" y2="1429.5" stroke="#b00000" stroke-width="2.0"/>
<line x1="1830.0" y1="1435.6" x2="1846.5" y2="1435.6" stroke="#b00000" stroke-width="2.0"/>
<line x1="1920.4" y1="1393.1" x2="1920.4" y2="1437.0" stroke="#b00000" stroke-width="2.0"/>
<line x1="1912.2" y1="1393.1" x2="1928.7" y2="1393.1" stroke="#b00000" stroke-width="2.0"/>
<line x1="1912.2" y1="1437.0" x2="1928.7" y2="1437.0" stroke="#b00000" stroke-width="2.0"/>
<line x1="1957.6" y1="1424.6" x2="1957.6" y2="1436.4" stroke="#b00000" stroke-width="2.0"/>
<line x1="1949.3" y1="1424.6" x2="1965.8" y2="1424.6" stroke="#b00000" stroke-width="2.0"/>
<line x1="1949.3" y1="1436.4" x2="1965.8" y2="1436.4" stroke="#b00000" stroke-width="2.0"/>
<text x="1119.2" y="1511.7" font-size="25.5" font-style="italic" letter-spacing="0.9">AAVS1</text>
<text x="1310.9" y="1498.0" font-size="31" font-style="italic" text-anchor="end" transform="rotate(-38.00 1310.9 1498.0)">AP1M1</text>
<text x="1391.2" y="1498.0" font-size="31" text-anchor="end" transform="rotate(-38.00 1391.2 1498.0)">SNX18</text>
<text x="1472.6" y="1498.0" font-size="31" font-style="italic" text-anchor="end" transform="rotate(-38.00 1472.6 1498.0)">RPLPO</text>
<text x="1544.5" y="1500.0" font-size="31" text-anchor="end" transform="rotate(-38.00 1544.5 1500.0)">CHST11</text>
<text x="1665.0" y="1488.0" font-size="31" font-style="italic" text-anchor="end" transform="rotate(-38.00 1665.0 1488.0)">IGSF9B</text>
<text x="1731.5" y="1492.0" font-size="31" text-anchor="end" transform="rotate(-38.00 1731.5 1492.0)">CHD1</text>
<text x="1816.5" y="1491.0" font-size="31" font-style="italic" text-anchor="end" transform="rotate(-38.00 1816.5 1491.0)">RBM12</text>
<text x="1904.0" y="1488.0" font-size="31" text-anchor="end" transform="rotate(-38.00 1904.0 1488.0)">SCAF11</text>
<text x="1980.5" y="1486.0" font-size="31" text-anchor="end" transform="rotate(-38.00 1980.5 1486.0)">SH3BP1</text>
<line x1="1214.8" y1="1491.2" x2="1214.8" y2="1591.0" stroke="#444" stroke-width="1" stroke-dasharray="2,1.2"/>
<line x1="1554.4" y1="1494.3" x2="1554.4" y2="1594.3" stroke="#444" stroke-width="1" stroke-dasharray="2,1.2"/>
<text x="1232.8" y="1609.0" font-size="27">SK-N-AS-specific gRNA</text>
<text x="1610.9" y="1608.7" font-size="27">SK-N-BE2c-specific gRNA</text>
<text x="0.0" y="1642.2" font-size="44" font-weight="bold">e</text>
<text x="97.0" y="1843.5" font-size="35" font-weight="bold" text-anchor="middle" transform="rotate(-90.00 97.0 1843.5)">Mean % of Q8+</text>
<text x="139.5" y="1850.0" font-size="35" font-weight="bold" text-anchor="middle" transform="rotate(-90.00 139.5 1850.0)">cells at d28</text>
<path d="M262.7,1712.0 273.3,1721.4 283.9,1729.9 294.5,1737.7 305.1,1744.7 315.7,1750.9 326.2,1756.2 336.8,1760.8 347.4,1764.6 358.0,1767.6 368.6,1769.8 379.2,1771.2 389.8,1771.8 400.4,1771.5 411.0,1770.2 421.6,1768.0 432.2,1764.7 442.8,1760.4 453.3,1755.0 463.9,1748.7 474.5,1741.4 485.1,1733.0 495.7,1723.7 506.3,1713.3 516.9,1701.9" fill="none" stroke="#333" stroke-width="1.2" stroke-dasharray="1.2,2.6"/>
<path d="M290.0,1998.7 299.5,1987.1 308.9,1976.5 318.4,1966.8 327.8,1957.9 337.3,1950.0 346.7,1943.0 356.2,1937.0 365.6,1931.8 375.1,1927.5 384.5,1924.2 394.0,1921.7 403.4,1920.2 412.9,1919.6 422.4,1919.8 431.8,1920.8 441.3,1922.4 450.7,1924.8 460.2,1927.9 469.6,1931.7 479.1,1936.1 488.5,1941.3 498.0,1947.3 507.4,1953.9 516.9,1961.2" fill="none" stroke="#333" stroke-width="1.2" stroke-dasharray="1.2,2.6"/>
<line x1="229.3" y1="1660.0" x2="229.3" y2="2002.6" stroke="#000" stroke-width="3.6"/>
<line x1="227.5" y1="2000.8" x2="569.8" y2="2000.8" stroke="#000" stroke-width="3.6"/>
<line x1="215.3" y1="2000.8" x2="229.3" y2="2000.8" stroke="#000" stroke-width="3.4"/>
<text x="210.3" y="2010.1" font-size="25" text-anchor="end">0</text>
<line x1="215.3" y1="1887.8" x2="229.3" y2="1887.8" stroke="#000" stroke-width="3.4"/>
<text x="210.3" y="1897.1" font-size="25" text-anchor="end">20</text>
<line x1="215.3" y1="1774.8" x2="229.3" y2="1774.8" stroke="#000" stroke-width="3.4"/>
<text x="210.3" y="1784.1" font-size="25" text-anchor="end">40</text>
<line x1="215.3" y1="1661.8" x2="229.3" y2="1661.8" stroke="#000" stroke-width="3.4"/>
<text x="210.3" y="1671.1" font-size="25" text-anchor="end">60</text>
<line x1="229.3" y1="2000.8" x2="229.3" y2="2015.8" stroke="#000" stroke-width="3.4"/>
<text x="229.3" y="2044.5" font-size="25" font-weight="bold" text-anchor="middle">45</text>
<line x1="314.0" y1="2000.8" x2="314.0" y2="2015.8" stroke="#000" stroke-width="3.4"/>
<text x="314.0" y="2044.5" font-size="25" font-weight="bold" text-anchor="middle">50</text>
<line x1="398.6" y1="2000.8" x2="398.6" y2="2015.8" stroke="#000" stroke-width="3.4"/>
<text x="398.6" y="2044.5" font-size="25" font-weight="bold" text-anchor="middle">55</text>
<line x1="483.3" y1="2000.8" x2="483.3" y2="2015.8" stroke="#000" stroke-width="3.4"/>
<text x="483.3" y="2044.5" font-size="25" font-weight="bold" text-anchor="middle">60</text>
<line x1="568.0" y1="2000.8" x2="568.0" y2="2015.8" stroke="#000" stroke-width="3.4"/>
<text x="568.0" y="2044.5" font-size="25" font-weight="bold" text-anchor="middle">65</text>
<text x="406.0" y="2085.3" font-size="27" font-weight="bold" text-anchor="middle">Doench Score</text>
<line x1="262.7" y1="1871.8" x2="516.9" y2="1825.7" stroke="#000" stroke-width="3.2"/>
<circle cx="262.7" cy="1803.6" r="6.00" fill="#5e5e5e" stroke="#000" stroke-width="2.7"/>
<circle cx="347.3" cy="1854.7" r="6.00" fill="#5e5e5e" stroke="#000" stroke-width="2.7"/>
<circle cx="381.4" cy="1780.4" r="6.00" fill="#5e5e5e" stroke="#000" stroke-width="2.7"/>
<circle cx="381.4" cy="1792.3" r="6.00" fill="#5e5e5e" stroke="#000" stroke-width="2.7"/>
<circle cx="432.6" cy="1995.3" r="6.00" fill="#5e5e5e" stroke="#000" stroke-width="2.7"/>
<circle cx="347.3" cy="1973.1" r="6.00" fill="#5e5e5e" stroke="#000" stroke-width="2.7"/>
<circle cx="466.7" cy="1865.6" r="6.00" fill="#5e5e5e" stroke="#000" stroke-width="2.7"/>
<circle cx="482.8" cy="1831.5" r="6.00" fill="#5e5e5e" stroke="#000" stroke-width="2.7"/>
<circle cx="516.9" cy="1718.9" r="6.00" fill="#5e5e5e" stroke="#000" stroke-width="2.7"/>
<text x="483.8" y="1701.9" font-size="27" font-style="italic">IGSF9b</text>
<text x="334.4" y="1759.9" font-size="27" font-style="italic" fill="#444444">AAVS1</text>
<text x="245.0" y="1788.9" font-size="27" font-style="italic" fill="#8a8a8a">RPLP0</text>
<text x="430.6" y="1818.9" font-size="27" font-style="italic">CHD1</text>
<text x="332.6" y="1891.2" font-size="27" font-style="italic" fill="#8a8a8a">AP1M1</text>
<text x="477.0" y="1894.6" font-size="27" font-style="italic">RBM12</text>
<text x="283.9" y="1959.5" font-size="27" font-style="italic">SCAF11</text>
<text x="400.9" y="1983.4" font-size="27" font-style="italic" fill="#8a8a8a">CHST11</text>
<text x="515.9" y="1773.5" font-size="30" font-weight="bold" fill="#e01010">n.s.</text>
<text x="518.6" y="1812.8" font-size="27" fill="#e01010">R<tspan font-size="17" dy="-10">2</tspan><tspan dy="10">=0.02</tspan></text>
<text x="522.0" y="1841.8" font-size="27" fill="#e01010">n=9</text>
<path d="M749.3,1717.3 757.6,1727.6 765.8,1736.9 774.1,1745.2 782.4,1752.3 790.7,1758.5 798.9,1763.5 807.2,1767.5 815.5,1770.5 823.7,1772.4 832.0,1773.3 840.3,1773.1 848.5,1772.1 856.8,1770.4 865.1,1767.8 873.4,1764.4 881.6,1760.1 889.9,1755.1 898.2,1749.3 906.4,1742.7 914.7,1735.2 923.0,1726.9 931.3,1717.9 939.5,1708.0 947.8,1697.3" fill="none" stroke="#333" stroke-width="1.2" stroke-dasharray="1.2,2.6"/>
<path d="M749.3,1985.0 757.6,1974.5 765.8,1965.1 774.1,1956.5 782.4,1948.9 790.7,1942.3 798.9,1936.6 807.2,1931.9 815.5,1928.1 823.7,1925.3 832.0,1923.5 840.3,1922.6 848.5,1922.6 856.8,1923.6 865.1,1925.5 873.4,1928.3 881.6,1932.0 889.9,1936.6 898.2,1942.1 906.4,1948.6 914.7,1955.9 923.0,1964.2 931.3,1973.4 939.5,1983.5 947.8,1994.5" fill="none" stroke="#333" stroke-width="1.2" stroke-dasharray="1.2,2.6"/>
<line x1="680.0" y1="1661.7" x2="680.0" y2="2004.0" stroke="#000" stroke-width="3.6"/>
<line x1="678.2" y1="2002.2" x2="1025.6" y2="2002.2" stroke="#000" stroke-width="3.6"/>
<line x1="666.0" y1="2002.2" x2="680.0" y2="2002.2" stroke="#000" stroke-width="3.4"/>
<text x="661.0" y="2011.5" font-size="25" text-anchor="end">0</text>
<line x1="666.0" y1="1889.3" x2="680.0" y2="1889.3" stroke="#000" stroke-width="3.4"/>
<text x="661.0" y="1898.6" font-size="25" text-anchor="end">20</text>
<line x1="666.0" y1="1776.4" x2="680.0" y2="1776.4" stroke="#000" stroke-width="3.4"/>
<text x="661.0" y="1785.7" font-size="25" text-anchor="end">40</text>
<line x1="666.0" y1="1663.5" x2="680.0" y2="1663.5" stroke="#000" stroke-width="3.4"/>
<text x="661.0" y="1672.8" font-size="25" text-anchor="end">60</text>
<line x1="680.0" y1="2002.2" x2="680.0" y2="2017.2" stroke="#000" stroke-width="3.4"/>
<text x="680.0" y="2044.5" font-size="25" font-weight="bold" text-anchor="middle">20</text>
<line x1="794.6" y1="2002.2" x2="794.6" y2="2017.2" stroke="#000" stroke-width="3.4"/>
<text x="794.6" y="2044.5" font-size="25" font-weight="bold" text-anchor="middle">40</text>
<line x1="909.2" y1="2002.2" x2="909.2" y2="2017.2" stroke="#000" stroke-width="3.4"/>
<text x="909.2" y="2044.5" font-size="25" font-weight="bold" text-anchor="middle">60</text>
<line x1="1023.8" y1="2002.2" x2="1023.8" y2="2017.2" stroke="#000" stroke-width="3.4"/>
<text x="1023.8" y="2044.5" font-size="25" font-weight="bold" text-anchor="middle">80</text>
<text x="852.5" y="2085.3" font-size="27" font-weight="bold" text-anchor="middle">Moreno Score</text>
<line x1="749.3" y1="1849.7" x2="949.1" y2="1844.7" stroke="#000" stroke-width="3.2"/>
<circle cx="778.0" cy="1721.3" r="6.00" fill="#5e5e5e" stroke="#000" stroke-width="2.7"/>
<circle cx="875.3" cy="1782.6" r="6.00" fill="#5e5e5e" stroke="#000" stroke-width="2.7"/>
<circle cx="875.3" cy="1794.6" r="6.00" fill="#5e5e5e" stroke="#000" stroke-width="2.7"/>
<circle cx="834.5" cy="1805.8" r="6.00" fill="#5e5e5e" stroke="#000" stroke-width="2.7"/>
<circle cx="818.0" cy="1833.2" r="6.00" fill="#5e5e5e" stroke="#000" stroke-width="2.7"/>
<circle cx="778.0" cy="1867.9" r="6.00" fill="#5e5e5e" stroke="#000" stroke-width="2.7"/>
<circle cx="949.1" cy="1855.9" r="6.00" fill="#5e5e5e" stroke="#000" stroke-width="2.7"/>
<circle cx="749.3" cy="1997.1" r="6.00" fill="#5e5e5e" stroke="#000" stroke-width="2.7"/>
<circle cx="909.2" cy="1974.5" r="6.00" fill="#5e5e5e" stroke="#000" stroke-width="2.7"/>
<text x="730.6" y="1710.6" font-size="27" font-style="italic">IGSF9b</text>
<text x="838.5" y="1769.3" font-size="27" font-style="italic" fill="#444444">AAVS1</text>
<text x="739.9" y="1799.9" font-size="27" font-style="italic" fill="#8a8a8a">RPLP0</text>
<text x="732.5" y="1839.9" font-size="27" font-style="italic">CHD1</text>
<text x="747.9" y="1901.2" font-size="27" font-style="italic">RBM12</text>
<text x="933.2" y="1894.5" font-size="27" font-style="italic" fill="#8a8a8a">AP1M1</text>
<text x="880.4" y="1959.8" font-size="27" font-style="italic">SCAF11</text>
<text x="705.3" y="1981.1" font-size="27" font-style="italic" fill="#8a8a8a">CHST11</text>
<text x="962.5" y="1789.2" font-size="30" font-weight="bold" fill="#e01010">n.s.</text>
<text x="962.5" y="1822.6" font-size="27" fill="#e01010">R<tspan font-size="17" dy="-10">2</tspan><tspan dy="10">&lt;0.01</tspan></text>
<text x="966.5" y="1857.2" font-size="27" fill="#e01010">n=9</text>
<path d="M1134.2,1927.0 1150.2,1911.4 1166.2,1896.1 1182.2,1880.9 1198.2,1865.9 1214.2,1851.1 1230.2,1836.5 1246.2,1822.0 1262.2,1807.8 1278.1,1793.7 1294.1,1779.9 1310.1,1766.2 1326.1,1752.7 1342.1,1739.4 1358.1,1726.3 1374.1,1713.3 1390.1,1700.6" fill="none" stroke="#333" stroke-width="1.2" stroke-dasharray="1.2,2.6"/>
<path d="M1193.0,1983.4 1206.1,1974.7 1219.2,1965.9 1232.4,1956.8 1245.5,1947.6 1258.6,1938.2 1271.7,1928.6 1284.8,1918.8 1298.0,1908.8 1311.1,1898.6 1324.2,1888.3 1337.3,1877.7 1350.4,1867.0 1363.5,1856.1 1376.7,1845.0 1389.8,1833.7 1402.9,1822.2" fill="none" stroke="#333" stroke-width="1.2" stroke-dasharray="1.2,2.6"/>
<line x1="1129.6" y1="1663.2" x2="1129.6" y2="2004.8" stroke="#000" stroke-width="3.6"/>
<line x1="1127.8" y1="2003.0" x2="1472.5" y2="2003.0" stroke="#000" stroke-width="3.6"/>
<line x1="1115.6" y1="2003.0" x2="1129.6" y2="2003.0" stroke="#000" stroke-width="3.4"/>
<text x="1110.6" y="2012.3" font-size="25" text-anchor="end">0</text>
<line x1="1115.6" y1="1890.3" x2="1129.6" y2="1890.3" stroke="#000" stroke-width="3.4"/>
<text x="1110.6" y="1899.6" font-size="25" text-anchor="end">20</text>
<line x1="1115.6" y1="1777.7" x2="1129.6" y2="1777.7" stroke="#000" stroke-width="3.4"/>
<text x="1110.6" y="1787.0" font-size="25" text-anchor="end">40</text>
<line x1="1115.6" y1="1665.0" x2="1129.6" y2="1665.0" stroke="#000" stroke-width="3.4"/>
<text x="1110.6" y="1674.3" font-size="25" text-anchor="end">60</text>
<line x1="1129.6" y1="2003.0" x2="1129.6" y2="2018.0" stroke="#000" stroke-width="3.4"/>
<text x="1129.6" y="2044.5" font-size="25" font-weight="bold" text-anchor="middle">0</text>
<line x1="1243.3" y1="2003.0" x2="1243.3" y2="2018.0" stroke="#000" stroke-width="3.4"/>
<text x="1243.3" y="2044.5" font-size="25" font-weight="bold" text-anchor="middle">1</text>
<line x1="1357.0" y1="2003.0" x2="1357.0" y2="2018.0" stroke="#000" stroke-width="3.4"/>
<text x="1357.0" y="2044.5" font-size="25" font-weight="bold" text-anchor="middle">2</text>
<line x1="1470.7" y1="2003.0" x2="1470.7" y2="2018.0" stroke="#000" stroke-width="3.4"/>
<text x="1470.7" y="2044.5" font-size="25" font-weight="bold" text-anchor="middle">3</text>
<text x="1307.0" y="2085.3" font-size="27" font-weight="bold" text-anchor="middle">PAM Copy number</text>
<line x1="1131.6" y1="2002.5" x2="1402.4" y2="1751.8" stroke="#000" stroke-width="3.2"/>
<circle cx="1402.9" cy="1723.6" r="6.00" fill="#5e5e5e" stroke="#000" stroke-width="2.7"/>
<circle cx="1356.8" cy="1785.0" r="6.00" fill="#5e5e5e" stroke="#000" stroke-width="2.7"/>
<circle cx="1357.6" cy="1796.6" r="6.00" fill="#5e5e5e" stroke="#000" stroke-width="2.7"/>
<circle cx="1346.1" cy="1808.1" r="6.00" fill="#5e5e5e" stroke="#000" stroke-width="2.7"/>
<circle cx="1243.5" cy="1836.2" r="6.00" fill="#5e5e5e" stroke="#000" stroke-width="2.7"/>
<circle cx="1232.7" cy="1859.3" r="6.00" fill="#5e5e5e" stroke="#000" stroke-width="2.7"/>
<circle cx="1260.9" cy="1869.5" r="6.00" fill="#5e5e5e" stroke="#000" stroke-width="2.7"/>
<circle cx="1130.4" cy="1954.7" r="6.00" fill="#5e5e5e" stroke="#000" stroke-width="2.7"/>
<circle cx="1232.7" cy="1977.0" r="6.00" fill="#5e5e5e" stroke="#000" stroke-width="2.7"/>
<circle cx="1130.4" cy="2000.0" r="6.00" fill="#5e5e5e" stroke="#000" stroke-width="2.7"/>
<circle cx="1243.5" cy="2000.0" r="6.00" fill="#5e5e5e" stroke="#000" stroke-width="2.7"/>
<text x="1370.9" y="1699.3" font-size="27" font-style="italic">IGSF9b</text>
<text x="1298.0" y="1769.7" font-size="27" font-style="italic" fill="#444444">AAVS1</text>
<text x="1213.5" y="1812.4" font-size="27" font-style="italic">CHD1</text>
<text x="1365.8" y="1828.5" font-size="27" font-style="italic" fill="#8a8a8a">RPLP0</text>
<text x="1138.0" y="1847.2" font-size="27" font-style="italic" fill="#8a8a8a">AP1M1</text>
<text x="1285.2" y="1887.4" font-size="27" font-style="italic">RBM12</text>
<text x="1138.0" y="1941.9" font-size="27" font-style="italic" fill="#8a8a8a">SNX18</text>
<text x="1240.4" y="1960.3" font-size="27" font-style="italic">SCAF11</text>
<text x="1143.2" y="2000.8" font-size="22.7" font-style="italic">SH3BP1</text>
<text x="1267.3" y="1998.2" font-size="27" font-style="italic" fill="#8a8a8a">CHST11</text>
<text x="1418.5" y="1757.0" font-size="50" font-weight="bold" fill="#e01010">**</text>
<text x="1409.3" y="1767.9" font-size="27" fill="#e01010">R<tspan font-size="17" dy="-10">2</tspan><tspan dy="10">=0.73</tspan></text>
<text x="1409.3" y="1796.6" font-size="27" fill="#e01010">n=11</text>
<path d="M1608.6,1828.0 1640.0,1825.0 1665.0,1821.0 1685.4,1816.0 1705.0,1808.0 1725.0,1793.0 1745.0,1770.0 1765.0,1740.0 1785.0,1705.0 1808.6,1661.0" fill="none" stroke="#333" stroke-width="1.2" stroke-dasharray="1.2,2.6"/>
<path d="M1674.8,1996.2 1690.0,1970.0 1710.0,1947.0 1735.0,1925.0 1765.0,1910.0 1795.0,1902.0 1820.0,1899.0 1841.7,1898.2" fill="none" stroke="#333" stroke-width="1.2" stroke-dasharray="1.2,2.6"/>
<line x1="1558.8" y1="1659.7" x2="1558.8" y2="2003.0" stroke="#000" stroke-width="3.6"/>
<line x1="1557.0" y1="2001.2" x2="1897.9" y2="2001.2" stroke="#000" stroke-width="3.6"/>
<line x1="1544.8" y1="2001.2" x2="1558.8" y2="2001.2" stroke="#000" stroke-width="3.4"/>
<text x="1539.8" y="2010.5" font-size="25" text-anchor="end">0</text>
<line x1="1544.8" y1="1888.0" x2="1558.8" y2="1888.0" stroke="#000" stroke-width="3.4"/>
<text x="1539.8" y="1897.3" font-size="25" text-anchor="end">20</text>
<line x1="1544.8" y1="1774.7" x2="1558.8" y2="1774.7" stroke="#000" stroke-width="3.4"/>
<text x="1539.8" y="1784.0" font-size="25" text-anchor="end">40</text>
<line x1="1544.8" y1="1661.5" x2="1558.8" y2="1661.5" stroke="#000" stroke-width="3.4"/>
<text x="1539.8" y="1670.8" font-size="25" text-anchor="end">60</text>
<line x1="1558.8" y1="2001.2" x2="1558.8" y2="2016.2" stroke="#000" stroke-width="3.4"/>
<text x="1558.8" y="2044.5" font-size="25" font-weight="bold" text-anchor="middle">8</text>
<line x1="1626.3" y1="2001.2" x2="1626.3" y2="2016.2" stroke="#000" stroke-width="3.4"/>
<text x="1626.3" y="2044.5" font-size="25" font-weight="bold" text-anchor="middle">10</text>
<line x1="1693.7" y1="2001.2" x2="1693.7" y2="2016.2" stroke="#000" stroke-width="3.4"/>
<text x="1693.7" y="2044.5" font-size="25" font-weight="bold" text-anchor="middle">12</text>
<line x1="1761.2" y1="2001.2" x2="1761.2" y2="2016.2" stroke="#000" stroke-width="3.4"/>
<text x="1761.2" y="2044.5" font-size="25" font-weight="bold" text-anchor="middle">14</text>
<line x1="1828.6" y1="2001.2" x2="1828.6" y2="2016.2" stroke="#000" stroke-width="3.4"/>
<text x="1828.6" y="2044.5" font-size="25" font-weight="bold" text-anchor="middle">16</text>
<line x1="1896.1" y1="2001.2" x2="1896.1" y2="2016.2" stroke="#000" stroke-width="3.4"/>
<text x="1896.1" y="2044.5" font-size="25" font-weight="bold" text-anchor="middle">18</text>
<text x="1740.5" y="2085.3" font-size="27" font-weight="bold" text-anchor="middle">Expression Log2(TPM+1)</text>
<line x1="1609.9" y1="1971.8" x2="1845.7" y2="1744.5" stroke="#000" stroke-width="3.2"/>
<circle cx="1761.0" cy="1718.6" r="6.00" fill="#5e5e5e" stroke="#000" stroke-width="2.7"/>
<circle cx="1844.9" cy="1803.3" r="6.00" fill="#5e5e5e" stroke="#000" stroke-width="2.7"/>
<circle cx="1710.6" cy="1831.9" r="6.00" fill="#5e5e5e" stroke="#000" stroke-width="2.7"/>
<circle cx="1710.6" cy="1854.5" r="6.00" fill="#5e5e5e" stroke="#000" stroke-width="2.7"/>
<circle cx="1710.6" cy="1865.8" r="6.00" fill="#5e5e5e" stroke="#000" stroke-width="2.7"/>
<circle cx="1710.6" cy="1972.9" r="6.00" fill="#5e5e5e" stroke="#000" stroke-width="2.7"/>
<circle cx="1609.9" cy="1995.7" r="6.00" fill="#5e5e5e" stroke="#000" stroke-width="2.7"/>
<text x="1714.6" y="1700.8" font-size="27" font-style="italic">IGSF9b</text>
<text x="1687.6" y="1820.0" font-size="27" font-style="italic">CHD1</text>
<text x="1813.1" y="1837.2" font-size="27" font-style="italic" fill="#8a8a8a">RPLP0</text>
<text x="1732.6" y="1868.5" font-size="27" font-style="italic" fill="#8a8a8a">AP1M1</text>
<text x="1611.3" y="1890.2" font-size="27" font-style="italic">RBM12</text>
<text x="1722.0" y="1971.8" font-size="27" font-style="italic">SCAF11</text>
<text x="1579.5" y="1978.2" font-size="27" font-style="italic" fill="#8a8a8a">CHST11</text>
<text x="1857.5" y="1739.3" font-size="50" font-weight="bold" fill="#e01010">*</text>
<text x="1857.6" y="1752.5" font-size="27" fill="#e01010">R<tspan font-size="17" dy="-10">2</tspan><tspan dy="10">=0.5</tspan></text>
<text x="1857.6" y="1782.9" font-size="27" fill="#e01010">n=6</text>
</svg></body></html>
